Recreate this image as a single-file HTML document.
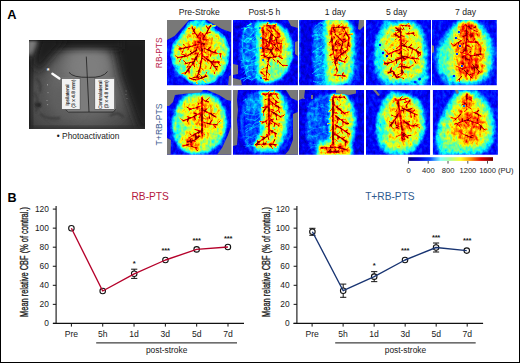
<!DOCTYPE html>
<html><head><meta charset="utf-8"><style>
html,body{margin:0;padding:0;background:#fff;}
body{width:520px;height:363px;overflow:hidden;}
svg{display:block;font-family:"Liberation Sans",sans-serif;}
</style></head><body>
<svg width="520" height="363" viewBox="0 0 520 363">
<defs><filter id="b0_20" filterUnits="userSpaceOnUse" x="-20" y="-20" width="110" height="110"><feGaussianBlur stdDeviation="0.2"/></filter><filter id="b0_30" filterUnits="userSpaceOnUse" x="-20" y="-20" width="110" height="110"><feGaussianBlur stdDeviation="0.3"/></filter><filter id="b0_40" filterUnits="userSpaceOnUse" x="-20" y="-20" width="110" height="110"><feGaussianBlur stdDeviation="0.4"/></filter><filter id="b0_50" filterUnits="userSpaceOnUse" x="-20" y="-20" width="110" height="110"><feGaussianBlur stdDeviation="0.5"/></filter><filter id="b0_60" filterUnits="userSpaceOnUse" x="-20" y="-20" width="110" height="110"><feGaussianBlur stdDeviation="0.6"/></filter><filter id="b0_70" filterUnits="userSpaceOnUse" x="-20" y="-20" width="110" height="110"><feGaussianBlur stdDeviation="0.7"/></filter><filter id="b0_80" filterUnits="userSpaceOnUse" x="-20" y="-20" width="110" height="110"><feGaussianBlur stdDeviation="0.8"/></filter><filter id="b0_90" filterUnits="userSpaceOnUse" x="-20" y="-20" width="110" height="110"><feGaussianBlur stdDeviation="0.9"/></filter><filter id="b1_00" filterUnits="userSpaceOnUse" x="-20" y="-20" width="110" height="110"><feGaussianBlur stdDeviation="1.0"/></filter><filter id="b1_10" filterUnits="userSpaceOnUse" x="-20" y="-20" width="110" height="110"><feGaussianBlur stdDeviation="1.1"/></filter><filter id="b1_20" filterUnits="userSpaceOnUse" x="-20" y="-20" width="110" height="110"><feGaussianBlur stdDeviation="1.2"/></filter><filter id="b1_30" filterUnits="userSpaceOnUse" x="-20" y="-20" width="110" height="110"><feGaussianBlur stdDeviation="1.3"/></filter><filter id="b1_40" filterUnits="userSpaceOnUse" x="-20" y="-20" width="110" height="110"><feGaussianBlur stdDeviation="1.4"/></filter><filter id="b1_50" filterUnits="userSpaceOnUse" x="-20" y="-20" width="110" height="110"><feGaussianBlur stdDeviation="1.5"/></filter><filter id="b1_60" filterUnits="userSpaceOnUse" x="-20" y="-20" width="110" height="110"><feGaussianBlur stdDeviation="1.6"/></filter><filter id="b1_80" filterUnits="userSpaceOnUse" x="-20" y="-20" width="110" height="110"><feGaussianBlur stdDeviation="1.8"/></filter><filter id="b2_00" filterUnits="userSpaceOnUse" x="-20" y="-20" width="110" height="110"><feGaussianBlur stdDeviation="2"/></filter><filter id="b2_50" filterUnits="userSpaceOnUse" x="-20" y="-20" width="110" height="110"><feGaussianBlur stdDeviation="2.5"/></filter><filter id="b3_00" filterUnits="userSpaceOnUse" x="-20" y="-20" width="110" height="110"><feGaussianBlur stdDeviation="3"/></filter><clipPath id="c0"><rect x="0" y="0" width="64.2" height="65.3"/></clipPath><filter id="j0" filterUnits="userSpaceOnUse" x="0" y="0" width="64.2" height="65.3" color-interpolation-filters="sRGB"><feTurbulence type="fractalNoise" baseFrequency="0.3 0.22" numOctaves="3" seed="3" result="n"/><feColorMatrix in="n" type="matrix" values="1 0 0 0 0 1 0 0 0 0 1 0 0 0 0 0 0 0 0 1" result="ng"/><feComposite in="SourceGraphic" in2="ng" operator="arithmetic" k1="0.55" k2="0.725" k3="0.12" k4="-0.06" result="s"/><feComponentTransfer in="s"><feFuncR type="table" tableValues="0.000 0.000 0.000 0.000 0.000 0.000 0.000 0.000 0.000 0.000 0.000 0.000 0.000 0.125 0.250 0.375 0.500 0.625 0.750 0.875 1.000 1.000 1.000 1.000 1.000 1.000 1.000 1.000 1.000 0.875 0.750 0.625 0.500"/><feFuncG type="table" tableValues="0.000 0.000 0.000 0.000 0.000 0.125 0.250 0.375 0.500 0.625 0.750 0.875 1.000 1.000 1.000 1.000 1.000 1.000 1.000 1.000 1.000 0.875 0.750 0.625 0.500 0.375 0.250 0.125 0.000 0.000 0.000 0.000 0.000"/><feFuncB type="table" tableValues="0.500 0.625 0.750 0.875 1.000 1.000 1.000 1.000 1.000 1.000 1.000 1.000 1.000 0.875 0.750 0.625 0.500 0.375 0.250 0.125 0.000 0.000 0.000 0.000 0.000 0.000 0.000 0.000 0.000 0.000 0.000 0.000 0.000"/><feFuncA type="linear" slope="0" intercept="1"/></feComponentTransfer></filter><clipPath id="c1"><rect x="0" y="0" width="64.9" height="65.3"/></clipPath><filter id="j1" filterUnits="userSpaceOnUse" x="0" y="0" width="64.9" height="65.3" color-interpolation-filters="sRGB"><feTurbulence type="fractalNoise" baseFrequency="0.3 0.22" numOctaves="3" seed="5" result="n"/><feColorMatrix in="n" type="matrix" values="1 0 0 0 0 1 0 0 0 0 1 0 0 0 0 0 0 0 0 1" result="ng"/><feComposite in="SourceGraphic" in2="ng" operator="arithmetic" k1="0.55" k2="0.725" k3="0.12" k4="-0.06" result="s"/><feComponentTransfer in="s"><feFuncR type="table" tableValues="0.000 0.000 0.000 0.000 0.000 0.000 0.000 0.000 0.000 0.000 0.000 0.000 0.000 0.125 0.250 0.375 0.500 0.625 0.750 0.875 1.000 1.000 1.000 1.000 1.000 1.000 1.000 1.000 1.000 0.875 0.750 0.625 0.500"/><feFuncG type="table" tableValues="0.000 0.000 0.000 0.000 0.000 0.125 0.250 0.375 0.500 0.625 0.750 0.875 1.000 1.000 1.000 1.000 1.000 1.000 1.000 1.000 1.000 0.875 0.750 0.625 0.500 0.375 0.250 0.125 0.000 0.000 0.000 0.000 0.000"/><feFuncB type="table" tableValues="0.500 0.625 0.750 0.875 1.000 1.000 1.000 1.000 1.000 1.000 1.000 1.000 1.000 0.875 0.750 0.625 0.500 0.375 0.250 0.125 0.000 0.000 0.000 0.000 0.000 0.000 0.000 0.000 0.000 0.000 0.000 0.000 0.000"/><feFuncA type="linear" slope="0" intercept="1"/></feComponentTransfer></filter><clipPath id="c2"><rect x="0" y="0" width="65" height="65.3"/></clipPath><filter id="j2" filterUnits="userSpaceOnUse" x="0" y="0" width="65" height="65.3" color-interpolation-filters="sRGB"><feTurbulence type="fractalNoise" baseFrequency="0.3 0.22" numOctaves="3" seed="7" result="n"/><feColorMatrix in="n" type="matrix" values="1 0 0 0 0 1 0 0 0 0 1 0 0 0 0 0 0 0 0 1" result="ng"/><feComposite in="SourceGraphic" in2="ng" operator="arithmetic" k1="0.55" k2="0.725" k3="0.12" k4="-0.06" result="s"/><feComponentTransfer in="s"><feFuncR type="table" tableValues="0.000 0.000 0.000 0.000 0.000 0.000 0.000 0.000 0.000 0.000 0.000 0.000 0.000 0.125 0.250 0.375 0.500 0.625 0.750 0.875 1.000 1.000 1.000 1.000 1.000 1.000 1.000 1.000 1.000 0.875 0.750 0.625 0.500"/><feFuncG type="table" tableValues="0.000 0.000 0.000 0.000 0.000 0.125 0.250 0.375 0.500 0.625 0.750 0.875 1.000 1.000 1.000 1.000 1.000 1.000 1.000 1.000 1.000 0.875 0.750 0.625 0.500 0.375 0.250 0.125 0.000 0.000 0.000 0.000 0.000"/><feFuncB type="table" tableValues="0.500 0.625 0.750 0.875 1.000 1.000 1.000 1.000 1.000 1.000 1.000 1.000 1.000 0.875 0.750 0.625 0.500 0.375 0.250 0.125 0.000 0.000 0.000 0.000 0.000 0.000 0.000 0.000 0.000 0.000 0.000 0.000 0.000"/><feFuncA type="linear" slope="0" intercept="1"/></feComponentTransfer></filter><clipPath id="c3"><rect x="0" y="0" width="65" height="65.3"/></clipPath><filter id="j3" filterUnits="userSpaceOnUse" x="0" y="0" width="65" height="65.3" color-interpolation-filters="sRGB"><feTurbulence type="fractalNoise" baseFrequency="0.3 0.22" numOctaves="3" seed="11" result="n"/><feColorMatrix in="n" type="matrix" values="1 0 0 0 0 1 0 0 0 0 1 0 0 0 0 0 0 0 0 1" result="ng"/><feComposite in="SourceGraphic" in2="ng" operator="arithmetic" k1="0.55" k2="0.725" k3="0.12" k4="-0.06" result="s"/><feComponentTransfer in="s"><feFuncR type="table" tableValues="0.000 0.000 0.000 0.000 0.000 0.000 0.000 0.000 0.000 0.000 0.000 0.000 0.000 0.125 0.250 0.375 0.500 0.625 0.750 0.875 1.000 1.000 1.000 1.000 1.000 1.000 1.000 1.000 1.000 0.875 0.750 0.625 0.500"/><feFuncG type="table" tableValues="0.000 0.000 0.000 0.000 0.000 0.125 0.250 0.375 0.500 0.625 0.750 0.875 1.000 1.000 1.000 1.000 1.000 1.000 1.000 1.000 1.000 0.875 0.750 0.625 0.500 0.375 0.250 0.125 0.000 0.000 0.000 0.000 0.000"/><feFuncB type="table" tableValues="0.500 0.625 0.750 0.875 1.000 1.000 1.000 1.000 1.000 1.000 1.000 1.000 1.000 0.875 0.750 0.625 0.500 0.375 0.250 0.125 0.000 0.000 0.000 0.000 0.000 0.000 0.000 0.000 0.000 0.000 0.000 0.000 0.000"/><feFuncA type="linear" slope="0" intercept="1"/></feComponentTransfer></filter><clipPath id="c4"><rect x="0" y="0" width="64.8" height="65.3"/></clipPath><filter id="j4" filterUnits="userSpaceOnUse" x="0" y="0" width="64.8" height="65.3" color-interpolation-filters="sRGB"><feTurbulence type="fractalNoise" baseFrequency="0.3 0.22" numOctaves="3" seed="13" result="n"/><feColorMatrix in="n" type="matrix" values="1 0 0 0 0 1 0 0 0 0 1 0 0 0 0 0 0 0 0 1" result="ng"/><feComposite in="SourceGraphic" in2="ng" operator="arithmetic" k1="0.55" k2="0.725" k3="0.12" k4="-0.06" result="s"/><feComponentTransfer in="s"><feFuncR type="table" tableValues="0.000 0.000 0.000 0.000 0.000 0.000 0.000 0.000 0.000 0.000 0.000 0.000 0.000 0.125 0.250 0.375 0.500 0.625 0.750 0.875 1.000 1.000 1.000 1.000 1.000 1.000 1.000 1.000 1.000 0.875 0.750 0.625 0.500"/><feFuncG type="table" tableValues="0.000 0.000 0.000 0.000 0.000 0.125 0.250 0.375 0.500 0.625 0.750 0.875 1.000 1.000 1.000 1.000 1.000 1.000 1.000 1.000 1.000 0.875 0.750 0.625 0.500 0.375 0.250 0.125 0.000 0.000 0.000 0.000 0.000"/><feFuncB type="table" tableValues="0.500 0.625 0.750 0.875 1.000 1.000 1.000 1.000 1.000 1.000 1.000 1.000 1.000 0.875 0.750 0.625 0.500 0.375 0.250 0.125 0.000 0.000 0.000 0.000 0.000 0.000 0.000 0.000 0.000 0.000 0.000 0.000 0.000"/><feFuncA type="linear" slope="0" intercept="1"/></feComponentTransfer></filter><clipPath id="c5"><rect x="0" y="0" width="64.2" height="64.8"/></clipPath><filter id="j5" filterUnits="userSpaceOnUse" x="0" y="0" width="64.2" height="64.8" color-interpolation-filters="sRGB"><feTurbulence type="fractalNoise" baseFrequency="0.3 0.22" numOctaves="3" seed="17" result="n"/><feColorMatrix in="n" type="matrix" values="1 0 0 0 0 1 0 0 0 0 1 0 0 0 0 0 0 0 0 1" result="ng"/><feComposite in="SourceGraphic" in2="ng" operator="arithmetic" k1="0.55" k2="0.725" k3="0.12" k4="-0.06" result="s"/><feComponentTransfer in="s"><feFuncR type="table" tableValues="0.000 0.000 0.000 0.000 0.000 0.000 0.000 0.000 0.000 0.000 0.000 0.000 0.000 0.125 0.250 0.375 0.500 0.625 0.750 0.875 1.000 1.000 1.000 1.000 1.000 1.000 1.000 1.000 1.000 0.875 0.750 0.625 0.500"/><feFuncG type="table" tableValues="0.000 0.000 0.000 0.000 0.000 0.125 0.250 0.375 0.500 0.625 0.750 0.875 1.000 1.000 1.000 1.000 1.000 1.000 1.000 1.000 1.000 0.875 0.750 0.625 0.500 0.375 0.250 0.125 0.000 0.000 0.000 0.000 0.000"/><feFuncB type="table" tableValues="0.500 0.625 0.750 0.875 1.000 1.000 1.000 1.000 1.000 1.000 1.000 1.000 1.000 0.875 0.750 0.625 0.500 0.375 0.250 0.125 0.000 0.000 0.000 0.000 0.000 0.000 0.000 0.000 0.000 0.000 0.000 0.000 0.000"/><feFuncA type="linear" slope="0" intercept="1"/></feComponentTransfer></filter><clipPath id="c6"><rect x="0" y="0" width="64.9" height="64.8"/></clipPath><filter id="j6" filterUnits="userSpaceOnUse" x="0" y="0" width="64.9" height="64.8" color-interpolation-filters="sRGB"><feTurbulence type="fractalNoise" baseFrequency="0.3 0.22" numOctaves="3" seed="19" result="n"/><feColorMatrix in="n" type="matrix" values="1 0 0 0 0 1 0 0 0 0 1 0 0 0 0 0 0 0 0 1" result="ng"/><feComposite in="SourceGraphic" in2="ng" operator="arithmetic" k1="0.55" k2="0.725" k3="0.12" k4="-0.06" result="s"/><feComponentTransfer in="s"><feFuncR type="table" tableValues="0.000 0.000 0.000 0.000 0.000 0.000 0.000 0.000 0.000 0.000 0.000 0.000 0.000 0.125 0.250 0.375 0.500 0.625 0.750 0.875 1.000 1.000 1.000 1.000 1.000 1.000 1.000 1.000 1.000 0.875 0.750 0.625 0.500"/><feFuncG type="table" tableValues="0.000 0.000 0.000 0.000 0.000 0.125 0.250 0.375 0.500 0.625 0.750 0.875 1.000 1.000 1.000 1.000 1.000 1.000 1.000 1.000 1.000 0.875 0.750 0.625 0.500 0.375 0.250 0.125 0.000 0.000 0.000 0.000 0.000"/><feFuncB type="table" tableValues="0.500 0.625 0.750 0.875 1.000 1.000 1.000 1.000 1.000 1.000 1.000 1.000 1.000 0.875 0.750 0.625 0.500 0.375 0.250 0.125 0.000 0.000 0.000 0.000 0.000 0.000 0.000 0.000 0.000 0.000 0.000 0.000 0.000"/><feFuncA type="linear" slope="0" intercept="1"/></feComponentTransfer></filter><clipPath id="c7"><rect x="0" y="0" width="65" height="64.8"/></clipPath><filter id="j7" filterUnits="userSpaceOnUse" x="0" y="0" width="65" height="64.8" color-interpolation-filters="sRGB"><feTurbulence type="fractalNoise" baseFrequency="0.3 0.22" numOctaves="3" seed="23" result="n"/><feColorMatrix in="n" type="matrix" values="1 0 0 0 0 1 0 0 0 0 1 0 0 0 0 0 0 0 0 1" result="ng"/><feComposite in="SourceGraphic" in2="ng" operator="arithmetic" k1="0.55" k2="0.725" k3="0.12" k4="-0.06" result="s"/><feComponentTransfer in="s"><feFuncR type="table" tableValues="0.000 0.000 0.000 0.000 0.000 0.000 0.000 0.000 0.000 0.000 0.000 0.000 0.000 0.125 0.250 0.375 0.500 0.625 0.750 0.875 1.000 1.000 1.000 1.000 1.000 1.000 1.000 1.000 1.000 0.875 0.750 0.625 0.500"/><feFuncG type="table" tableValues="0.000 0.000 0.000 0.000 0.000 0.125 0.250 0.375 0.500 0.625 0.750 0.875 1.000 1.000 1.000 1.000 1.000 1.000 1.000 1.000 1.000 0.875 0.750 0.625 0.500 0.375 0.250 0.125 0.000 0.000 0.000 0.000 0.000"/><feFuncB type="table" tableValues="0.500 0.625 0.750 0.875 1.000 1.000 1.000 1.000 1.000 1.000 1.000 1.000 1.000 0.875 0.750 0.625 0.500 0.375 0.250 0.125 0.000 0.000 0.000 0.000 0.000 0.000 0.000 0.000 0.000 0.000 0.000 0.000 0.000"/><feFuncA type="linear" slope="0" intercept="1"/></feComponentTransfer></filter><clipPath id="c8"><rect x="0" y="0" width="64.1" height="64.8"/></clipPath><filter id="j8" filterUnits="userSpaceOnUse" x="0" y="0" width="64.1" height="64.8" color-interpolation-filters="sRGB"><feTurbulence type="fractalNoise" baseFrequency="0.3 0.22" numOctaves="3" seed="29" result="n"/><feColorMatrix in="n" type="matrix" values="1 0 0 0 0 1 0 0 0 0 1 0 0 0 0 0 0 0 0 1" result="ng"/><feComposite in="SourceGraphic" in2="ng" operator="arithmetic" k1="0.55" k2="0.725" k3="0.12" k4="-0.06" result="s"/><feComponentTransfer in="s"><feFuncR type="table" tableValues="0.000 0.000 0.000 0.000 0.000 0.000 0.000 0.000 0.000 0.000 0.000 0.000 0.000 0.125 0.250 0.375 0.500 0.625 0.750 0.875 1.000 1.000 1.000 1.000 1.000 1.000 1.000 1.000 1.000 0.875 0.750 0.625 0.500"/><feFuncG type="table" tableValues="0.000 0.000 0.000 0.000 0.000 0.125 0.250 0.375 0.500 0.625 0.750 0.875 1.000 1.000 1.000 1.000 1.000 1.000 1.000 1.000 1.000 0.875 0.750 0.625 0.500 0.375 0.250 0.125 0.000 0.000 0.000 0.000 0.000"/><feFuncB type="table" tableValues="0.500 0.625 0.750 0.875 1.000 1.000 1.000 1.000 1.000 1.000 1.000 1.000 1.000 0.875 0.750 0.625 0.500 0.375 0.250 0.125 0.000 0.000 0.000 0.000 0.000 0.000 0.000 0.000 0.000 0.000 0.000 0.000 0.000"/><feFuncA type="linear" slope="0" intercept="1"/></feComponentTransfer></filter><clipPath id="c9"><rect x="0" y="0" width="65.0" height="64.8"/></clipPath><filter id="j9" filterUnits="userSpaceOnUse" x="0" y="0" width="65.0" height="64.8" color-interpolation-filters="sRGB"><feTurbulence type="fractalNoise" baseFrequency="0.3 0.22" numOctaves="3" seed="31" result="n"/><feColorMatrix in="n" type="matrix" values="1 0 0 0 0 1 0 0 0 0 1 0 0 0 0 0 0 0 0 1" result="ng"/><feComposite in="SourceGraphic" in2="ng" operator="arithmetic" k1="0.55" k2="0.725" k3="0.12" k4="-0.06" result="s"/><feComponentTransfer in="s"><feFuncR type="table" tableValues="0.000 0.000 0.000 0.000 0.000 0.000 0.000 0.000 0.000 0.000 0.000 0.000 0.000 0.125 0.250 0.375 0.500 0.625 0.750 0.875 1.000 1.000 1.000 1.000 1.000 1.000 1.000 1.000 1.000 0.875 0.750 0.625 0.500"/><feFuncG type="table" tableValues="0.000 0.000 0.000 0.000 0.000 0.125 0.250 0.375 0.500 0.625 0.750 0.875 1.000 1.000 1.000 1.000 1.000 1.000 1.000 1.000 1.000 0.875 0.750 0.625 0.500 0.375 0.250 0.125 0.000 0.000 0.000 0.000 0.000"/><feFuncB type="table" tableValues="0.500 0.625 0.750 0.875 1.000 1.000 1.000 1.000 1.000 1.000 1.000 1.000 1.000 0.875 0.750 0.625 0.500 0.375 0.250 0.125 0.000 0.000 0.000 0.000 0.000 0.000 0.000 0.000 0.000 0.000 0.000 0.000 0.000"/><feFuncA type="linear" slope="0" intercept="1"/></feComponentTransfer></filter><clipPath id="cph"><rect x="29" y="40" width="116" height="89"/></clipPath><filter id="pb1" x="-50%" y="-50%" width="200%" height="200%"><feGaussianBlur stdDeviation="1"/></filter><filter id="pb2" x="-50%" y="-50%" width="200%" height="200%"><feGaussianBlur stdDeviation="2"/></filter><filter id="pb3" x="-50%" y="-50%" width="200%" height="200%"><feGaussianBlur stdDeviation="3"/></filter><filter id="pb4" x="-50%" y="-50%" width="200%" height="200%"><feGaussianBlur stdDeviation="4"/></filter><filter id="pb5" x="-50%" y="-50%" width="200%" height="200%"><feGaussianBlur stdDeviation="5"/></filter><filter id="pb6" x="-50%" y="-50%" width="200%" height="200%"><feGaussianBlur stdDeviation="6"/></filter><filter id="pb8" x="-50%" y="-50%" width="200%" height="200%"><feGaussianBlur stdDeviation="8"/></filter><linearGradient id="jet" x1="0" x2="1" y1="0" y2="0">
<stop offset="0" stop-color="#00007a"/><stop offset="0.12" stop-color="#0000d0"/><stop offset="0.25" stop-color="#0040ff"/>
<stop offset="0.38" stop-color="#80ffff"/><stop offset="0.5" stop-color="#b0ff90"/><stop offset="0.62" stop-color="#ffff20"/>
<stop offset="0.74" stop-color="#ff9000"/><stop offset="0.86" stop-color="#e00000"/><stop offset="1" stop-color="#700000"/></linearGradient></defs>
<rect x="0" y="0" width="520" height="363" fill="#fff"/>
<rect x="0.5" y="0.5" width="519" height="362" fill="none" stroke="#000" stroke-width="1"/>
<text x="7.3" y="18.5" font-size="12.8" font-weight="bold">A</text>
<text x="7.6" y="201.8" font-size="12.6" font-weight="bold">B</text>
<g fill="#1a1a1a">
<text x="199.3" y="14.7" text-anchor="middle" font-size="8.6">Pre-Stroke</text>
<text x="264.4" y="14.7" text-anchor="middle" font-size="8.6">Post-5 h</text>
<text x="335.3" y="14.7" text-anchor="middle" font-size="8.6">1 day</text>
<text x="396.6" y="14.7" text-anchor="middle" font-size="8.6">5 day</text>
<text x="465.6" y="14.7" text-anchor="middle" font-size="8.6">7 day</text>
<text x="88.1" y="138.5" text-anchor="middle" font-size="8.4">&#8226; Photoactivation</text>
</g>
<text transform="translate(161.9 52.8) rotate(-90)" text-anchor="middle" font-size="8.4" fill="#b8234a">RB-PTS</text>
<text transform="translate(161.6 124.5) rotate(-90)" text-anchor="middle" font-size="8.6" fill="#3b5b8f">T+RB-PTS</text>
<g clip-path="url(#cph)">
<rect x="29" y="40" width="116" height="89" fill="#363636"/>
<ellipse cx="80" cy="100" rx="58" ry="42" fill="#505050" filter="url(#pb8)"/>
<ellipse cx="86" cy="82" rx="38" ry="40" fill="#6a6a6a" filter="url(#pb8)"/>
<ellipse cx="88" cy="66" rx="22" ry="20" fill="#7e7e7e" filter="url(#pb6)"/>
<ellipse cx="66" cy="100" rx="16" ry="16" fill="#5e5e5e" filter="url(#pb6)"/>
<polygon points="112,36 150,36 150,132 140,132 130,104 120,76" fill="#1c1c1c" filter="url(#pb5)"/>
<rect x="38" y="34" width="84" height="15" fill="#1e1e1e" filter="url(#pb3)"/>
<polygon points="40,36 68,36 58,48 46,62 38,72 33,62" fill="#1c1c1c" filter="url(#pb4)"/>
<polygon points="27,36 38,36 36,46 32,54 27,56" fill="#7c7c7c" filter="url(#pb2)"/>
<rect x="26" y="58" width="5" height="74" fill="#161616" filter="url(#pb2)"/>
<rect x="27" y="37" width="122" height="4" fill="#161616" filter="url(#pb1)"/>
<rect x="27" y="127" width="122" height="4" fill="#2a2a2a" filter="url(#pb2)"/>
<ellipse cx="38" cy="105" rx="3" ry="2.2" fill="#161616" filter="url(#pb1)"/>
<path d="M34 92 Q40 100 36 112 M40 114 Q48 120 60 118 M110 116 Q118 110 124 118 M36 78 Q42 84 40 92" stroke="#3a3a3a" stroke-width="2" fill="none" filter="url(#pb1)"/>
<polygon points="61.5,77.5 88.5,77.5 89,111.8 68.4,112.1 65,109.2 61.5,109.2" fill="#7c7c7c"/>
<polygon points="88.5,77.5 114.5,77.5 115.7,109.2 113.4,111.6 89,111.8" fill="#7c7c7c"/>
<path d="M65 109.2 L68.4 112.1 H113.4 L115.7 109.2" stroke="#2a2a2a" stroke-width="0.8" fill="none"/>
<path d="M69 72.4 Q73 77.8 88.5 77.3 Q103 78 107.5 71.5" stroke="#1e1e1e" stroke-width="0.8" fill="none"/>
<path d="M86.3 56.6 L89 112" stroke="#1e1e1e" stroke-width="0.8" fill="none"/>
<rect x="61.7" y="78.5" width="18.4" height="30.8" fill="#f2f2f2" stroke="#4a4a4a" stroke-width="0.6"/>
<rect x="94.8" y="78.4" width="19.8" height="30.9" fill="#f2f2f2" stroke="#4a4a4a" stroke-width="0.6"/>
<g font-size="5" fill="#2a2a2a" stroke="#2a2a2a" stroke-width="0.12" text-rendering="geometricPrecision">
<text transform="translate(69.1 95) rotate(-90)" text-anchor="middle">Ipsilateral</text>
<text transform="translate(75.4 93.6) rotate(-90)" text-anchor="middle">(3 x 4.8 mm)</text>
<text transform="translate(101.6 94.8) rotate(-90)" text-anchor="middle">Contralateral</text>
<text transform="translate(107.9 94.3) rotate(-90)" text-anchor="middle">(3 x 4.8 mm)</text>
</g>
<path d="M52.4 73.8 L59.4 78.6" stroke="#fafafa" stroke-width="2.4" stroke-linecap="round"/>
<text x="48.2" y="73" font-size="7" fill="#fff" text-anchor="middle" font-weight="bold">*</text>
<path d="M47.5 84v1.5M48 92v1.2M47 100v1M47.6 104v1.2" stroke="#bbb" stroke-width="0.6"/>
<path d="M126 94v1.2M127 98v1M125.5 91h1.2" stroke="#999" stroke-width="0.5"/>
</g>
<g transform="translate(167 20)" clip-path="url(#c0)">
<g filter="url(#j0)">
<rect x="-2" y="-2" width="68.2" height="69.3" fill="#1f1f1f"/>
<polygon points="22,1 38,0 50,10 58,16 63,28 62,42 57,54 46,63 34,66 24,64 14,56 6,46 3,36 5,24 12,16" fill="#404040" filter="url(#b0_70)"/>
<polygon points="22.72,2.98 37.76,2.04 49.04,11.44 56.56,17.08 61.26,28.36 60.32,41.52 55.62,52.8 45.28,61.26 34,64.08 24.6,62.2 15.2,54.68 7.68,45.28 4.86,35.88 6.74,24.6 13.32,17.08" fill="#6b6b6b" filter="url(#b0_90)"/>
<polygon points="23.56,5.29 37.48,4.42 47.92,13.12 54.88,18.34 59.23,28.78 58.36,40.96 54.01,51.4 44.44,59.23 34,61.84 25.3,60.1 16.6,53.14 9.64,44.44 7.03,35.74 8.77,25.3 14.86,18.34" fill="#999999" filter="url(#b1_20)"/>
<ellipse cx="15" cy="46" rx="6" ry="10" fill="#707070" filter="url(#b2_00)"/>
<ellipse cx="40" cy="57" rx="8" ry="5" fill="#787878" filter="url(#b2_00)"/>
<ellipse cx="54" cy="34" rx="3" ry="9" fill="#7a7a7a" filter="url(#b2_00)"/>
<ellipse cx="31" cy="4" rx="7" ry="4" fill="#5c5c5c" filter="url(#b1_20)"/>
<ellipse cx="34" cy="26" rx="13" ry="14" fill="#a8a8a8" filter="url(#b3_00)"/>
<ellipse cx="34" cy="22" rx="7" ry="9" fill="#cccccc" filter="url(#b2_50)"/>
<ellipse cx="34" cy="22" rx="3.5" ry="5" fill="#ededed" filter="url(#b1_20)"/>
<path d="M34 22Q36.7 17.1 40 12Q41.8 8.6 44 5M34 22Q31.2 17.0 28 13Q25.9 9.9 25 6M34 24Q27.7 25.2 22 27Q17.6 28.0 12 29M30 30Q25.4 33.0 20 36Q15.2 36.6 10 38M34 24Q34.7 30.4 35 36Q34.0 42.3 33 48Q31.7 52.5 30 58M32 32Q28.8 38.6 25 45Q21.3 48.9 18 54M36 28Q41.4 30.0 46 32Q50.3 33.5 54 34M36 36Q40.3 39.5 44 42Q46.9 46.4 50 50M22 58Q25.9 59.5 30 60Q35.5 57.5 40 56M26 42Q21.6 42.7 18 44M44 42Q48.6 41.9 52 42" stroke="#b8b8b8" stroke-width="2.20" fill="none" stroke-linecap="round" stroke-linejoin="round" filter="url(#b1_00)"/>
<path d="M34 22Q36.7 17.1 40 12Q41.8 8.6 44 5M34 22Q31.2 17.0 28 13Q25.9 9.9 25 6M34 24Q27.7 25.2 22 27Q17.6 28.0 12 29M30 30Q25.4 33.0 20 36Q15.2 36.6 10 38M34 24Q34.7 30.4 35 36Q34.0 42.3 33 48Q31.7 52.5 30 58M32 32Q28.8 38.6 25 45Q21.3 48.9 18 54M36 28Q41.4 30.0 46 32Q50.3 33.5 54 34M36 36Q40.3 39.5 44 42Q46.9 46.4 50 50M22 58Q25.9 59.5 30 60Q35.5 57.5 40 56M26 42Q21.6 42.7 18 44M44 42Q48.6 41.9 52 42" stroke="#ffffff" stroke-width="1.1" fill="none" stroke-linecap="round" stroke-linejoin="round" filter="url(#b0_30)"/>
<path d="M35.5 19.5Q38.5 20.3 40.9 19.8M37.3 16.5Q36.0 15.0 35.2 13.0M39.0 13.7Q41.9 12.2 43.3 12.2M41.6 9.3Q40.0 7.7 39.0 5.4M43.4 6.0Q45.4 6.2 48.3 5.8M33.5 21.2Q32.2 20.9 30.3 20.5M30.6 16.9Q32.4 14.5 33.4 12.0M28.6 14.0Q27.1 13.1 25.5 13.8M27.0 10.6Q28.3 8.5 28.2 6.4M25.9 8.1Q24.0 7.8 21.1 8.2M30.8 24.8Q30.3 26.9 29.2 29.7M27.9 25.5Q27.0 24.1 25.1 22.8M23.4 26.6Q21.4 28.5 20.9 29.8M19.6 27.5Q18.2 25.5 16.4 24.3M17.2 28.0Q16.2 30.1 15.6 32.4M14.0 28.6Q12.0 27.1 10.6 25.1M28.3 31.0Q29.4 32.3 29.2 34.5M25.3 32.8Q24.4 32.6 23.2 31.3M20.8 35.5Q20.6 37.6 21.0 39.2M19.2 36.2Q16.9 34.4 14.1 33.8M15.1 37.0Q13.3 39.7 12.2 41.7M11.2 37.8Q9.9 36.6 8.5 35.8M34.1 25.6Q31.8 27.0 30.6 27.5M34.6 30.9Q37.2 32.5 38.6 32.7M34.7 32.8Q33.5 33.2 32.8 34.5M34.7 37.9Q36.5 38.8 39.1 41.3M33.8 43.2Q31.0 43.0 29.5 44.3M33.2 47.0Q35.6 49.3 37.2 50.8M32.3 50.3Q30.7 51.5 29.4 51.9M31.3 53.6Q33.0 54.6 34.7 56.6M30.4 56.7Q28.7 57.9 26.2 57.6M31.5 32.9Q29.6 33.1 27.1 34.1M28.9 37.7Q29.3 39.7 31.1 42.4M28.1 39.2Q26.7 39.2 23.8 38.8M26.1 43.0Q26.3 44.2 27.4 46.6M23.6 46.8Q21.9 46.6 19.5 47.1M21.6 49.4Q22.2 50.5 22.2 53.0M19.3 52.3Q16.6 53.6 14.6 53.4M37.3 28.5Q37.4 30.4 37.6 32.1M40.5 29.8Q41.6 27.6 43.7 27.0M43.9 31.1Q44.4 34.0 43.6 36.4M47.6 32.4Q48.1 31.5 49.1 30.0M52.5 33.6Q53.7 37.0 54.4 39.2M37.1 36.8Q39.4 37.2 40.5 36.9M40.5 39.4Q40.3 41.5 41.1 44.2M43.4 41.5Q44.7 41.9 46.9 41.1M45.2 43.6Q44.2 46.8 43.2 48.7M47.3 46.4Q49.0 46.5 50.6 46.8M49.3 49.1Q48.5 51.1 47.3 53.8M24.5 58.6Q25.7 58.0 27.0 57.2M28.5 59.6Q28.7 61.0 30.2 63.7M30.9 59.6Q30.9 57.8 32.1 56.5M34.7 58.1Q37.5 60.6 38.7 62.3M37.4 57.1Q38.9 54.9 39.8 51.6M23.1 42.7Q21.5 44.9 20.2 46.7M19.8 43.6Q17.1 41.4 15.9 39.6M45.9 42.0Q46.6 40.2 47.3 39.4M49.9 42.0Q51.3 44.0 53.4 45.5" stroke="#ffffff" stroke-width="0.8" fill="none" stroke-linecap="round" stroke-linejoin="round" filter="url(#b0_30)"/>
<path d="M33 18 L35 30 M31 22 L37 24" stroke="#b8b8b8" stroke-width="3.60" fill="none" stroke-linecap="round" stroke-linejoin="round" filter="url(#b1_00)"/>
<path d="M33 18 L35 30 M31 22 L37 24" stroke="#fafafa" stroke-width="1.8" fill="none" stroke-linecap="round" stroke-linejoin="round" filter="url(#b0_60)"/>
</g>
<polygon points="0,0 22,0 7.5,16 0,20" fill="#787878"/>
<polygon points="40,0 65,0 65,12.5 55,9" fill="#787878"/>
<polygon points="62,56 65,55 65,66 61,66" fill="#787878"/>
</g><g transform="translate(233 20)" clip-path="url(#c1)">
<g filter="url(#j1)">
<rect x="-2" y="-2" width="68.9" height="69.3" fill="#1a1a1a"/>
<polygon points="31,0 49,3 58,14 62,30 58,48 50,60 36,66 22,64 15,58 8,45 5,33 7,18 12,6 20,1" fill="#2b2b2b" filter="url(#b1_00)"/>
<polygon points="12,7 26,2 27,62 17,58 9,45 7,30 9,16" fill="#3b3b3b" filter="url(#b1_50)"/>
<path d="M25.0 5.0L20.5 8.4L14.6 7.5L8.7 8.3M24.6 9.9L21.4 10.9L18.5 14.4L15.6 17.8L12.0 15.4L9.3 15.8M25.6 15.3L22.9 15.5L19.4 18.1L16.1 20.2L13.7 23.4L11.1 21.0M25.8 16.2L22.3 17.3L19.7 20.7L16.7 18.3L13.7 18.3L11.0 21.6M24.2 20.4L20.8 21.5L17.0 22.0L13.9 22.1L11.5 22.2L8.4 19.9M25.0 25.9L22.5 28.3L19.7 28.9L16.7 30.6L13.8 31.2L10.3 33.9M24.2 29.6L20.9 31.5L16.9 30.3L12.2 28.1L8.5 28.8M24.0 34.4L21.2 36.2L18.5 38.3L15.3 41.2L11.7 39.7L9.0 42.5M24.7 38.9L19.2 40.8L13.9 41.3L7.8 40.5M24.7 42.8L21.7 42.6L18.4 44.2L15.9 45.8L12.2 45.8L8.5 47.1M25.2 45.3L21.5 44.7L18.5 45.3L15.3 45.7L12.8 48.8L9.8 52.0M25.5 51.2L21.2 50.7L18.1 49.8L13.6 51.9L10.6 55.1M25.0 52.3L21.5 53.1L18.6 56.1L16.1 56.5L13.0 59.0L10.3 61.1M24.4 56.7L18.4 59.9L12.8 57.4L7.6 59.3" stroke="#5c5c5c" stroke-width="0.8" fill="none" stroke-linecap="round" stroke-linejoin="round" filter="url(#b0_50)"/>
<path d="M12 8 Q6 30 14 56" stroke="#4c4c4c" stroke-width="1.3" fill="none" stroke-linecap="round" stroke-linejoin="round" filter="url(#b0_70)"/>
<path d="M14 6 L18 4 M12 9 L16 7" stroke="#808080" stroke-width="1.0" fill="none" stroke-linecap="round" stroke-linejoin="round" filter="url(#b0_40)"/>
<polygon points="23,2 44,3 54,10 59,22 60,36 55,50 46,60 34,64 24,60 23,40 23,20" fill="#666666" filter="url(#b1_20)"/>
<polygon points="27,4 42,5 50,11 55,22 56,36 52,48 44,58 34,61 27,56 26,38 27,18" fill="#949494" filter="url(#b1_30)"/>
<ellipse cx="42" cy="48" rx="8" ry="9" fill="#787878" filter="url(#b2_50)"/>
<polygon points="29,6 43,6 48,14 50,28 46,36 33,38 29,34" fill="#bdbdbd" filter="url(#b1_50)"/>
<path d="M31 6Q30.5 12.6 31 20Q31.3 27.6 31 36Q33.9 36.7 36 38Q40.9 36.9 47 36M31 6Q36.1 5.4 42 6M35 10Q38.7 14.0 43 18Q43.6 23.4 45 28M31 20Q35.3 22.2 40 24Q42.8 26.5 46 30M36 38Q34.9 44.2 34 50Q33.5 55.2 33 60M44 40Q46.5 42.6 50 46M38 14Q36.6 20.0 36 26M40 28Q38.4 30.9 36 34M31 28Q34.9 28.5 38 30" stroke="#b8b8b8" stroke-width="2.00" fill="none" stroke-linecap="round" stroke-linejoin="round" filter="url(#b1_00)"/>
<path d="M31 6Q30.5 12.6 31 20Q31.3 27.6 31 36Q33.9 36.7 36 38Q40.9 36.9 47 36M31 6Q36.1 5.4 42 6M35 10Q38.7 14.0 43 18Q43.6 23.4 45 28M31 20Q35.3 22.2 40 24Q42.8 26.5 46 30M36 38Q34.9 44.2 34 50Q33.5 55.2 33 60M44 40Q46.5 42.6 50 46M38 14Q36.6 20.0 36 26M40 28Q38.4 30.9 36 34M31 28Q34.9 28.5 38 30" stroke="#ffffff" stroke-width="1.0" fill="none" stroke-linecap="round" stroke-linejoin="round" filter="url(#b0_30)"/>
<path d="M31.0 7.4Q30.5 8.8 28.9 10.5M31.0 11.4Q32.1 12.3 33.6 14.4M31.0 14.2Q29.3 16.4 27.5 18.5M31.0 18.8Q33.2 19.7 34.1 20.4M31.0 22.5Q29.0 24.3 28.3 25.1M31.0 25.0Q33.4 26.2 34.5 26.5M31.0 28.6Q30.1 31.1 27.8 32.9M31.0 31.1Q32.0 32.6 34.0 32.8M31.0 34.7Q29.3 35.8 27.9 35.8M32.4 36.6Q33.7 35.8 35.8 34.3M38.2 37.6Q40.9 38.6 42.1 41.0M42.6 36.8Q43.2 34.4 44.8 33.5M45.3 36.3Q48.0 37.9 49.3 38.6M33.7 6.0Q33.8 4.3 34.9 2.4M36.7 6.0Q37.6 8.9 38.6 10.5M40.9 6.0Q41.8 4.9 43.7 3.9M35.8 10.8Q38.6 11.2 41.4 11.6M39.6 14.6Q38.9 17.8 38.5 20.0M42.3 17.3Q44.9 17.8 47.1 16.8M43.3 19.6Q40.2 20.5 38.1 22.4M43.9 22.6Q47.0 23.7 48.6 23.8M44.8 26.9Q43.7 29.5 41.8 30.8M32.6 20.7Q32.9 22.7 34.0 25.2M35.8 22.1Q38.2 20.5 41.2 20.1M38.7 23.4Q39.5 24.8 40.1 27.1M40.9 24.9Q43.0 23.5 46.4 23.3M43.8 27.8Q44.2 29.2 44.1 30.5M35.5 40.8Q33.7 42.2 33.2 42.3M35.0 43.8Q36.5 44.6 37.3 46.6M34.4 47.6Q31.1 48.0 29.0 49.2M33.8 51.5Q35.3 52.9 36.9 55.3M33.4 55.6Q30.8 56.0 28.4 57.3M33.2 58.4Q34.3 59.7 35.1 60.0M44.8 40.8Q44.3 42.3 44.1 44.2M49.3 45.3Q51.4 45.4 54.4 45.4M37.6 16.2Q34.9 18.9 33.5 20.1M37.2 18.9Q38.0 19.1 39.6 20.3M36.5 22.9Q34.2 24.9 32.2 26.9M38.6 30.0Q36.0 29.5 33.7 28.7M37.5 31.8Q38.8 34.1 40.9 36.0M32.4 28.4Q34.1 27.7 35.3 27.1M37.3 29.8Q38.9 31.8 39.8 33.9" stroke="#ffffff" stroke-width="0.8" fill="none" stroke-linecap="round" stroke-linejoin="round" filter="url(#b0_30)"/>
<path d="M30 8 L30 32 M40 8 L46 14" stroke="#b8b8b8" stroke-width="3.00" fill="none" stroke-linecap="round" stroke-linejoin="round" filter="url(#b1_00)"/>
<path d="M30 8 L30 32 M40 8 L46 14" stroke="#f0f0f0" stroke-width="1.5" fill="none" stroke-linecap="round" stroke-linejoin="round" filter="url(#b0_50)"/>
<path d="M30 58 L36 60 M28 52 L32 56" stroke="#d9d9d9" stroke-width="1.2" fill="none" stroke-linecap="round" stroke-linejoin="round" filter="url(#b0_40)"/>
<ellipse cx="27" cy="8" rx="1" ry="1" fill="#262626" filter="url(#b0_20)"/>
<ellipse cx="28" cy="18" rx="1" ry="1" fill="#262626" filter="url(#b0_20)"/>
<ellipse cx="28" cy="28" rx="1" ry="1" fill="#262626" filter="url(#b0_20)"/>
<ellipse cx="30" cy="40" rx="1" ry="1" fill="#262626" filter="url(#b0_20)"/>
<ellipse cx="28" cy="58" rx="1" ry="1" fill="#262626" filter="url(#b0_20)"/>
</g>
<polygon points="55,0 65,0 65,8 58,6" fill="#787878"/>
<polygon points="62,22 65,21 65,36 62,34" fill="#787878"/>
<polygon points="0,44 5,45 5,54 0,55" fill="#787878"/>
<polygon points="0,58 8,60 9,66 0,66" fill="#787878"/>
</g><g transform="translate(299 20)" clip-path="url(#c2)">
<g filter="url(#j2)">
<rect x="-2" y="-2" width="69" height="69.3" fill="#1a1a1a"/>
<rect x="0" y="0" width="1.5" height="66" fill="#333333" filter="url(#b0_40)"/>
<polygon points="14,4 28,0 50,0 58,10 60,30 59,50 56,66 16,66 13,40" fill="#2b2b2b" filter="url(#b1_20)"/>
<polygon points="15,8 27,2 27,66 18,66 14,40" fill="#404040" filter="url(#b1_50)"/>
<path d="M26.9 5.8L24.5 8.4L22.3 6.1L20.4 9.5L17.7 12.0L14.9 12.1M25.9 5.9L23.6 3.8L21.1 2.7L18.5 4.8L15.7 7.5M25.2 13.2L21.2 14.8L16.6 15.5L13.3 16.1M26.6 15.7L23.0 17.9L19.3 18.8L15.0 19.9M26.6 18.3L24.2 18.5L22.2 16.8L20.2 15.0L17.8 14.4L15.4 14.5M25.5 23.5L22.2 26.8L17.7 29.2L13.9 32.4M26.5 28.4L23.8 29.9L21.1 29.8L18.3 28.5L15.8 30.9L13.9 32.1M26.5 29.1L24.1 29.7L21.7 31.7L18.6 32.2L15.5 30.6M26.9 34.8L24.9 33.2L23.0 35.1L20.9 36.5L18.7 35.2L16.8 37.2M26.9 40.5L22.3 43.1L18.9 43.9L15.4 46.6M26.7 41.9L24.1 42.3L20.7 40.1L17.5 41.9L14.8 41.6M25.6 46.3L22.5 47.3L19.2 48.9L16.5 50.4L13.6 53.4M26.1 49.0L21.8 48.0L17.2 51.0L13.7 53.6M26.7 55.6L23.1 54.6L19.8 54.2L16.6 55.8M26.9 59.5L24.9 60.0L22.9 62.0L20.3 61.3L18.2 61.3L16.3 61.6M26.3 62.3L24.3 61.8L21.5 63.9L19.4 62.4L16.9 62.7L14.4 61.1" stroke="#5c5c5c" stroke-width="0.8" fill="none" stroke-linecap="round" stroke-linejoin="round" filter="url(#b0_50)"/>
<polygon points="25,0 49,0 55,8 56,30 55,50 52,62 40,66 26,66 25,40" fill="#666666" filter="url(#b1_20)"/>
<polygon points="28,0 46,0 51,8 52,30 51,48 48,60 38,63 29,62 28,30" fill="#949494" filter="url(#b1_30)"/>
<ellipse cx="40" cy="50" rx="8" ry="8" fill="#808080" filter="url(#b2_50)"/>
<polygon points="31,6 46,5 51,16 50,30 42,38 34,42" fill="#b8b8b8" filter="url(#b1_80)"/>
<path d="M32 8Q37.5 7.3 44 7Q46.4 12.2 50 18Q49.3 24.2 48 30Q44.0 33.3 40 36Q37.9 39.4 36 42M32 8Q32.6 14.6 33 22Q34.6 32.0 36 42M36 14Q40.0 17.7 44 22Q43.2 25.6 42 30Q38.8 29.7 36 30M36 42Q36.7 45.6 38 50M35 55Q40.8 55.7 46 56M40 40Q42.4 41.1 46 42M38 20Q36.5 22.2 36 24" stroke="#b8b8b8" stroke-width="2.20" fill="none" stroke-linecap="round" stroke-linejoin="round" filter="url(#b1_00)"/>
<path d="M32 8Q37.5 7.3 44 7Q46.4 12.2 50 18Q49.3 24.2 48 30Q44.0 33.3 40 36Q37.9 39.4 36 42M32 8Q32.6 14.6 33 22Q34.6 32.0 36 42M36 14Q40.0 17.7 44 22Q43.2 25.6 42 30Q38.8 29.7 36 30M36 42Q36.7 45.6 38 50M35 55Q40.8 55.7 46 56M40 40Q42.4 41.1 46 42M38 20Q36.5 22.2 36 24" stroke="#ffffff" stroke-width="1.1" fill="none" stroke-linecap="round" stroke-linejoin="round" filter="url(#b0_30)"/>
<path d="M34.3 7.8Q35.4 10.5 36.1 11.8M38.3 7.5Q40.4 4.9 42.4 3.5M42.8 7.1Q43.8 10.0 44.5 11.8M44.4 7.8Q46.7 7.9 49.5 7.8M46.8 12.1Q46.2 14.9 44.8 16.3M48.4 15.1Q50.4 14.4 53.8 13.9M49.8 19.3Q47.7 20.8 45.4 22.0M48.8 24.9Q49.6 25.6 50.9 26.6M48.5 26.9Q46.8 28.0 43.6 28.4M46.4 31.2Q46.8 33.7 47.8 36.3M44.7 32.5Q43.1 32.1 41.5 31.9M41.1 35.2Q41.4 37.1 42.0 38.1M38.5 38.3Q35.4 39.4 33.5 39.9M37.6 39.7Q38.3 41.7 38.3 43.0M32.2 10.7Q34.0 12.2 36.1 12.7M32.3 12.9Q30.9 13.8 30.1 15.9M32.6 16.0Q34.7 16.9 35.7 17.3M32.9 21.0Q32.3 20.9 30.6 22.4M33.2 23.5Q36.0 24.0 37.5 24.5M33.8 27.5Q32.8 28.9 31.3 30.3M34.2 30.0Q36.8 30.6 38.0 31.0M34.7 33.5Q32.6 34.6 30.8 35.4M35.3 37.0Q36.1 38.4 37.6 39.4M35.7 40.2Q34.9 41.4 33.2 43.0M37.7 15.7Q39.6 14.9 42.7 13.9M40.4 18.4Q40.6 20.7 39.3 21.8M42.4 20.4Q44.3 19.5 45.4 19.5M43.7 23.0Q42.2 24.0 40.6 25.6M42.7 27.3Q43.3 29.5 44.6 31.4M40.0 30.0Q38.8 28.4 36.3 25.5M36.2 42.9Q38.1 43.4 40.6 44.5M37.5 48.0Q35.7 49.7 35.1 50.4M36.4 55.1Q38.0 52.8 38.5 50.2M40.7 55.5Q43.1 57.6 43.9 58.3M43.2 55.7Q43.6 53.8 44.3 52.8M44.5 41.5Q46.1 39.4 47.7 37.1M37.5 21.1Q38.6 21.9 40.2 23.8" stroke="#ffffff" stroke-width="0.8" fill="none" stroke-linecap="round" stroke-linejoin="round" filter="url(#b0_30)"/>
<path d="M32 10 L34 30" stroke="#b8b8b8" stroke-width="3.20" fill="none" stroke-linecap="round" stroke-linejoin="round" filter="url(#b1_00)"/>
<path d="M32 10 L34 30" stroke="#f2f2f2" stroke-width="1.6" fill="none" stroke-linecap="round" stroke-linejoin="round" filter="url(#b0_50)"/>
<path d="M60 14 Q56 24 58 36 M61 40 Q58 50 60 60" stroke="#4c4c4c" stroke-width="1.0" fill="none" stroke-linecap="round" stroke-linejoin="round" filter="url(#b0_80)"/>
</g>
<polygon points="60,0 65,0 65,6 61,10 59,9" fill="#787878"/>
</g><g transform="translate(366 20)" clip-path="url(#c3)">
<g filter="url(#j3)">
<rect x="-2" y="-2" width="69" height="69.3" fill="#1f1f1f"/>
<polygon points="18,0 50,0 58,10 62,30 62,50 58,66 18,66 12,60 7,45 8,20" fill="#454545" filter="url(#b1_00)"/>
<polygon points="19.44,2.72 48.88,2.72 56.24,11.92 59.92,30.32 59.92,48.72 56.24,63.44 19.44,63.44 13.92,57.92 9.32,44.12 10.24,21.12" fill="#616161" filter="url(#b1_30)"/>
<polygon points="22,6.4 47.6,6.4 54,14.4 57.2,30.4 57.2,46.4 54,59.2 22,59.2 17.2,54.4 13.2,42.4 14,22.4" fill="#949494" filter="url(#b1_60)"/>
<ellipse cx="14" cy="40" rx="4" ry="14" fill="#5c5c5c" filter="url(#b2_00)"/>
<ellipse cx="56" cy="58" rx="6" ry="6" fill="#6b6b6b" filter="url(#b2_00)"/>
<ellipse cx="36" cy="28" rx="12" ry="12" fill="#a8a8a8" filter="url(#b3_00)"/>
<path d="M34 5Q34.4 12.6 35 20Q35.5 25.0 35 30Q35.5 36.1 36 42Q35.6 48.5 36 55M34 5Q39.2 5.9 44 6M35 29Q30.5 30.3 27 32Q23.0 33.9 20 35M35 38Q30.7 39.5 26 42Q22.6 43.6 18 44M35 25Q40.2 26.6 45 28Q49.1 29.9 54 33M36 36Q40.0 36.5 44 38Q48.1 38.2 53 39M22 53Q23.9 52.0 27 51Q28.9 54.9 31 58Q33.5 56.7 36 55M40 14Q44.0 13.7 48 13M35 18Q31.4 15.7 28 14M36 46Q40.6 47.6 44 48M35 12Q32.9 10.2 30 8" stroke="#b8b8b8" stroke-width="2.40" fill="none" stroke-linecap="round" stroke-linejoin="round" filter="url(#b1_00)"/>
<path d="M34 5Q34.4 12.6 35 20Q35.5 25.0 35 30Q35.5 36.1 36 42Q35.6 48.5 36 55M34 5Q39.2 5.9 44 6M35 29Q30.5 30.3 27 32Q23.0 33.9 20 35M35 38Q30.7 39.5 26 42Q22.6 43.6 18 44M35 25Q40.2 26.6 45 28Q49.1 29.9 54 33M36 36Q40.0 36.5 44 38Q48.1 38.2 53 39M22 53Q23.9 52.0 27 51Q28.9 54.9 31 58Q33.5 56.7 36 55M40 14Q44.0 13.7 48 13M35 18Q31.4 15.7 28 14M36 46Q40.6 47.6 44 48M35 12Q32.9 10.2 30 8" stroke="#ffffff" stroke-width="1.2" fill="none" stroke-linecap="round" stroke-linejoin="round" filter="url(#b0_30)"/>
<path d="M34.2 7.8Q35.3 9.3 36.7 9.8M34.4 10.9Q32.0 12.0 30.6 13.2M34.7 15.1Q36.9 16.2 38.2 16.6M34.9 18.7Q34.2 19.8 32.9 20.4M35.0 22.4Q36.0 23.3 37.2 24.1M35.0 24.6Q32.6 27.1 30.8 28.3M35.0 28.3Q37.2 29.3 39.6 30.3M35.2 32.4Q33.5 33.6 31.9 33.7M35.6 37.1Q38.2 38.4 39.9 39.4M35.9 41.1Q35.1 43.5 33.8 44.7M36.0 43.7Q37.5 44.0 38.4 44.5M36.0 46.2Q33.9 47.0 31.7 47.5M36.0 50.3Q37.7 52.8 39.1 54.7M36.0 52.8Q34.2 54.0 31.3 55.0M35.4 5.1Q37.2 7.7 38.3 9.9M39.7 5.6Q40.9 4.0 43.0 3.4M42.5 5.9Q43.0 7.0 43.4 8.6M33.5 29.6Q34.4 31.1 33.8 33.6M30.0 30.9Q27.8 30.5 27.1 29.0M25.8 32.5Q25.0 34.9 25.7 37.1M22.2 34.0Q20.9 32.4 18.5 29.8M33.8 38.5Q32.4 37.5 30.8 36.9M30.2 40.1Q30.6 41.3 30.7 43.7M26.9 41.6Q25.1 39.8 23.0 39.2M23.1 42.7Q22.0 44.6 21.0 45.1M19.5 43.6Q18.6 42.2 17.5 40.5M37.4 25.7Q39.8 23.3 41.1 21.5M40.3 26.6Q40.7 28.6 42.3 30.4M42.4 27.2Q43.7 26.1 45.6 24.8M46.8 29.0Q45.5 31.3 45.8 33.2M49.6 30.5Q50.8 28.1 52.8 27.2M51.8 31.8Q51.9 33.6 52.3 36.4M37.4 36.3Q38.2 39.0 38.1 40.6M42.9 37.7Q44.2 36.8 45.0 34.5M47.1 38.3Q48.9 40.6 49.8 43.0M50.6 38.7Q52.2 37.4 54.6 34.6M24.3 52.1Q24.4 50.5 25.4 47.8M27.8 52.3Q27.3 55.2 26.4 57.0M30.3 56.8Q31.4 56.3 33.5 56.9M32.6 57.0Q35.4 57.3 37.8 58.3M41.8 13.8Q41.8 13.1 43.3 11.8M46.9 13.1Q47.1 14.4 48.8 15.8M33.3 17.0Q31.3 18.4 29.3 19.6M29.5 14.9Q30.0 14.2 29.2 12.3M37.4 46.3Q37.0 47.1 38.1 48.9M42.5 47.6Q44.4 46.9 46.9 45.1M33.5 10.8Q30.6 10.0 28.7 10.7M32.0 9.6Q32.8 7.9 32.1 6.5" stroke="#ffffff" stroke-width="0.8" fill="none" stroke-linecap="round" stroke-linejoin="round" filter="url(#b0_30)"/>
<ellipse cx="14" cy="25" rx="1.2" ry="1.2" fill="#1f1f1f" filter="url(#b0_30)"/>
<ellipse cx="17" cy="33" rx="1.2" ry="1.2" fill="#1f1f1f" filter="url(#b0_30)"/>
<ellipse cx="21" cy="36" rx="1.2" ry="1.2" fill="#1f1f1f" filter="url(#b0_30)"/>
<ellipse cx="53.6" cy="59" rx="1.5" ry="1.5" fill="#262626" filter="url(#b0_30)"/>
<ellipse cx="49" cy="62" rx="1.5" ry="1.5" fill="#262626" filter="url(#b0_30)"/>
</g>
</g><g transform="translate(432 20)" clip-path="url(#c4)">
<g filter="url(#j4)">
<rect x="-2" y="-2" width="68.8" height="69.3" fill="#212121"/>
<polygon points="26,0 44,0 52,6 58,14 63,30 61,50 54,62 40,66 14,66 5,52 3,34 7,22 16,10" fill="#474747" filter="url(#b1_40)"/>
<polygon points="27,1 43,1 50,8 56,17 60,32 58,50 51,60 38,63 18,62 9,50 7,34 11,24 18,13" fill="#6b6b6b" filter="url(#b1_40)"/>
<polygon points="27,3 42,3 50,12 54,24 55,38 52,52 44,60 30,60 20,54 16,42 17,28 21,14" fill="#9e9e9e" filter="url(#b1_60)"/>
<ellipse cx="14" cy="38" rx="6" ry="12" fill="#737373" filter="url(#b2_50)"/>
<ellipse cx="20" cy="50" rx="5" ry="6" fill="#8c8c8c" filter="url(#b2_00)"/>
<ellipse cx="48" cy="28" rx="4" ry="9" fill="#999999" filter="url(#b2_50)"/>
<ellipse cx="36" cy="12" rx="8" ry="10" fill="#dbdbdb" filter="url(#b2_50)"/>
<ellipse cx="38" cy="46" rx="13" ry="12" fill="#d1d1d1" filter="url(#b3_00)"/>
<ellipse cx="32" cy="30" rx="8" ry="8" fill="#c7c7c7" filter="url(#b2_50)"/>
<ellipse cx="46" cy="30" rx="5" ry="8" fill="#bdbdbd" filter="url(#b2_50)"/>
<path d="M34 4Q34.2 9.2 35 14Q34.7 19.4 34 24Q33.6 31.7 34 40M28 32Q33.6 33.7 40 36Q45.3 34.6 50 34M24 46Q28.0 47.7 32 50Q35.8 53.9 40 58M40 44Q44.4 48.1 48 52M30 20Q25.4 22.7 22 26M38 8Q41.6 10.4 46 12M36 22Q41.4 22.4 46 22M30 56Q28.4 58.3 26 60" stroke="#b8b8b8" stroke-width="2.00" fill="none" stroke-linecap="round" stroke-linejoin="round" filter="url(#b1_00)"/>
<path d="M34 4Q34.2 9.2 35 14Q34.7 19.4 34 24Q33.6 31.7 34 40M28 32Q33.6 33.7 40 36Q45.3 34.6 50 34M24 46Q28.0 47.7 32 50Q35.8 53.9 40 58M40 44Q44.4 48.1 48 52M30 20Q25.4 22.7 22 26M38 8Q41.6 10.4 46 12M36 22Q41.4 22.4 46 22M30 56Q28.4 58.3 26 60" stroke="#ffffff" stroke-width="1.0" fill="none" stroke-linecap="round" stroke-linejoin="round" filter="url(#b0_30)"/>
<path d="M34.2 6.0Q35.8 6.2 37.5 7.0M34.5 8.9Q33.2 9.7 33.1 11.2M34.9 13.2Q35.9 14.2 37.9 15.5M34.9 15.3Q32.3 16.0 30.7 16.4M34.6 18.4Q35.9 19.7 37.3 21.7M34.1 22.7Q31.9 23.2 31.2 23.9M34.0 24.7Q36.2 26.3 38.3 27.4M34.0 28.1Q32.8 30.8 30.8 32.5M34.0 32.0Q36.4 32.9 37.8 34.6M34.0 35.3Q31.6 35.8 30.6 36.5M34.0 38.8Q35.8 39.6 38.4 40.1M29.3 32.4Q30.5 35.7 30.4 37.9M34.2 34.1Q36.7 33.3 38.8 31.4M38.6 35.5Q38.8 37.5 40.0 40.1M42.2 35.6Q42.1 34.2 42.9 33.1M45.1 35.0Q47.4 36.0 48.2 37.3M48.2 34.4Q48.5 32.0 48.6 30.7M26.8 47.4Q27.1 50.1 28.3 51.8M30.0 49.0Q32.7 48.1 35.5 47.0M34.1 52.1Q34.7 53.9 34.0 56.2M36.6 54.6Q39.5 54.4 42.2 53.1M38.6 56.6Q38.7 58.7 38.7 60.4M41.9 45.9Q42.9 48.4 42.6 51.9M43.5 47.5Q45.3 47.3 46.5 47.0M47.0 51.0Q46.8 53.3 45.4 54.4M29.2 20.6Q26.9 19.2 25.1 18.6M26.8 22.4Q26.0 25.5 25.5 27.5M22.6 25.6Q20.3 25.3 19.3 23.8M39.8 8.9Q41.3 7.2 43.4 7.0M43.3 10.6Q45.1 12.6 45.3 15.0M37.9 22.0Q40.2 24.5 40.9 26.7M40.9 22.0Q41.3 20.3 42.7 18.7M44.3 22.0Q45.6 22.8 47.3 24.9M27.8 58.2Q26.9 60.5 27.4 61.7" stroke="#ffffff" stroke-width="0.8" fill="none" stroke-linecap="round" stroke-linejoin="round" filter="url(#b0_30)"/>
<ellipse cx="24" cy="18" rx="1.3" ry="1.3" fill="#262626" filter="url(#b0_30)"/>
<ellipse cx="28" cy="26" rx="1.3" ry="1.3" fill="#262626" filter="url(#b0_30)"/>
<ellipse cx="25" cy="34" rx="1.3" ry="1.3" fill="#262626" filter="url(#b0_30)"/>
<ellipse cx="30" cy="46" rx="1.3" ry="1.3" fill="#262626" filter="url(#b0_30)"/>
<ellipse cx="22" cy="56" rx="1.3" ry="1.3" fill="#262626" filter="url(#b0_30)"/>
<ellipse cx="27" cy="12" rx="1.2" ry="1.5" fill="#262626" filter="url(#b0_30)"/>
</g>
<polygon points="0,25 2,26 2,32 0,33" fill="#787878"/>
</g><g transform="translate(167 90)" clip-path="url(#c5)">
<g filter="url(#j5)">
<rect x="-2" y="-2" width="68.2" height="68.8" fill="#1f1f1f"/>
<polygon points="22,2 42,2 52,8 58,18 61,32 58,46 50,57 40,64 26,66 14,61 7,50 4,34 7,20 13,9" fill="#424242" filter="url(#b0_90)"/>
<polygon points="22.72,3.92 41.52,3.92 50.92,9.56 56.56,18.96 59.38,32.12 56.56,45.28 49.04,55.62 39.64,62.2 26.48,64.08 15.2,59.38 8.62,49.04 5.8,34 8.62,20.84 14.26,10.5" fill="#6b6b6b" filter="url(#b1_10)"/>
<polygon points="23.82,6.34 41.02,6.34 49.62,11.5 54.78,20.1 57.36,32.14 54.78,44.18 47.9,53.64 39.3,59.66 27.26,61.38 16.94,57.08 10.92,47.62 8.34,33.86 10.92,21.82 16.08,12.36" fill="#999999" filter="url(#b1_40)"/>
<ellipse cx="12" cy="38" rx="5" ry="13" fill="#6e6e6e" filter="url(#b2_00)"/>
<ellipse cx="48" cy="50" rx="6" ry="6" fill="#787878" filter="url(#b2_00)"/>
<ellipse cx="35" cy="26" rx="10" ry="14" fill="#adadad" filter="url(#b3_00)"/>
<ellipse cx="24" cy="52" rx="8" ry="6" fill="#cccccc" filter="url(#b2_50)"/>
<path d="M35 7Q35.0 13.9 35 20Q35.6 26.7 35 34Q35.3 40.7 35 47M35 16Q31.7 16.5 28 18Q24.4 18.9 22 20M35 22Q30.8 24.2 26 27Q21.0 28.8 16 31M36 20Q40.4 22.5 44 24Q46.4 26.1 49 27M36 32Q39.5 33.4 44 34Q48.0 34.1 51 35M35 40Q31.7 42.1 28 44Q25.5 45.7 22 48M20 52Q24.0 51.5 28 50Q30.2 47.8 32 46M36 10Q38.5 11.5 42 12M24 56Q27.0 57.6 30 58M16 56Q18.6 55.4 22 54" stroke="#b8b8b8" stroke-width="2.20" fill="none" stroke-linecap="round" stroke-linejoin="round" filter="url(#b1_00)"/>
<path d="M35 7Q35.0 13.9 35 20Q35.6 26.7 35 34Q35.3 40.7 35 47M35 16Q31.7 16.5 28 18Q24.4 18.9 22 20M35 22Q30.8 24.2 26 27Q21.0 28.8 16 31M36 20Q40.4 22.5 44 24Q46.4 26.1 49 27M36 32Q39.5 33.4 44 34Q48.0 34.1 51 35M35 40Q31.7 42.1 28 44Q25.5 45.7 22 48M20 52Q24.0 51.5 28 50Q30.2 47.8 32 46M36 10Q38.5 11.5 42 12M24 56Q27.0 57.6 30 58M16 56Q18.6 55.4 22 54" stroke="#ffffff" stroke-width="1.1" fill="none" stroke-linecap="round" stroke-linejoin="round" filter="url(#b0_30)"/>
<path d="M35.0 8.0Q37.0 10.3 38.7 12.0M35.0 12.3Q33.2 13.1 31.5 13.4M35.0 14.4Q35.9 15.5 37.1 16.2M35.0 18.2Q33.2 20.1 32.4 21.2M35.0 22.6Q36.6 24.4 38.3 26.4M35.0 24.7Q32.6 26.4 31.6 27.7M35.0 27.8Q37.0 28.2 38.6 29.1M35.0 32.0Q33.2 32.9 32.5 34.2M35.0 35.2Q36.0 35.1 37.2 36.6M35.0 38.8Q33.9 40.9 31.6 43.4M35.0 41.5Q36.2 44.0 37.6 45.0M35.0 45.5Q32.4 46.1 29.8 48.2M33.9 16.3Q33.1 15.8 31.3 14.0M30.2 17.4Q29.7 18.7 30.2 19.9M24.3 19.2Q22.4 18.8 19.8 17.1M33.1 23.0Q33.7 25.3 32.9 27.9M30.8 24.3Q29.4 23.4 26.9 23.1M27.5 26.2Q27.2 27.1 28.3 29.4M23.9 27.9Q22.3 27.3 20.3 26.8M20.9 29.0Q20.9 30.5 20.5 31.5M16.7 30.7Q14.2 29.4 13.0 28.5M37.8 20.9Q39.0 19.3 41.6 17.1M41.8 22.9Q42.4 25.8 42.7 28.6M45.0 24.6Q46.2 23.5 48.2 23.2M38.2 32.6Q38.2 34.5 38.5 37.0M42.3 33.6Q43.8 32.3 44.9 30.3M45.8 34.3Q46.7 35.7 49.0 37.6M49.4 34.8Q51.0 32.9 53.3 31.0M33.1 41.1Q31.2 40.5 27.9 39.5M28.8 43.5Q28.5 44.9 29.7 47.3M25.7 45.5Q25.0 45.5 23.4 44.3M23.1 47.3Q23.1 50.1 24.0 52.5M22.2 51.5Q23.0 50.5 24.3 48.7M26.4 50.4Q26.8 51.7 28.6 51.8M29.0 49.0Q28.2 46.4 28.2 44.6M39.0 11.0Q41.1 9.2 42.4 7.6M28.4 57.5Q28.7 59.1 30.1 60.6M18.7 55.1Q21.4 56.4 22.9 56.4" stroke="#ffffff" stroke-width="0.8" fill="none" stroke-linecap="round" stroke-linejoin="round" filter="url(#b0_30)"/>
<path d="M35 8 L35 46" stroke="#b8b8b8" stroke-width="3.20" fill="none" stroke-linecap="round" stroke-linejoin="round" filter="url(#b1_00)"/>
<path d="M35 8 L35 46" stroke="#fafafa" stroke-width="1.6" fill="none" stroke-linecap="round" stroke-linejoin="round" filter="url(#b0_40)"/>
</g>
<polygon points="0,0 36,0 34,2.5 20,3.5 8,5 6,12 2,16 0,16" fill="#787878"/>
<polygon points="40,0 65,0 65,11 60,10 52,5" fill="#787878"/>
<polygon points="65,34 65,66 49,66 55,58 61,45" fill="#787878"/>
<polygon points="0,48 4,50 3.5,66 0,66" fill="#787878"/>
</g><g transform="translate(233 90)" clip-path="url(#c6)">
<g filter="url(#j6)">
<rect x="-2" y="-2" width="68.9" height="68.8" fill="#1a1a1a"/>
<polygon points="26,0 48,1 55,8 60,22 60,40 56,54 48,63 32,66 20,64 12,56 8,42 8,26 11,12 18,4" fill="#2b2b2b" filter="url(#b1_00)"/>
<path d="M18 4 Q9 14 9 30 Q9 48 18 60" stroke="#454545" stroke-width="1.6" fill="none" stroke-linecap="round" stroke-linejoin="round" filter="url(#b0_80)"/>
<polygon points="14,8 27,3 28,20 20,24 13,20" fill="#454545" filter="url(#b2_00)"/>
<ellipse cx="20" cy="40" rx="6" ry="12" fill="#303030" filter="url(#b3_00)"/>
<path d="M26.2 10.5L22.4 10.9L18.2 10.5L14.4 8.2L9.9 11.2M27.3 15.9L22.8 17.9L18.4 17.5L13.4 16.4M27.0 16.6L23.4 17.1L20.5 20.3L17.7 18.7L14.2 19.5L11.3 22.9M27.7 22.6L22.7 25.1L18.2 24.6L12.1 23.5M27.9 24.6L25.4 27.6L22.0 30.6L18.9 29.7L16.4 29.7L12.9 28.3M27.3 31.9L23.2 32.3L19.4 35.4L16.1 34.1L12.6 36.0M27.2 33.7L22.6 36.7L17.7 39.1L12.4 42.2M26.5 36.9L23.4 37.0L20.8 35.8L18.0 37.9L15.2 38.0L11.8 40.8M28.0 43.8L25.5 45.1L22.0 44.7L19.4 47.0L16.3 47.3L12.8 50.1M26.1 45.3L20.3 48.3L15.5 46.2L10.3 46.3M26.5 51.4L21.9 51.7L18.7 53.3L15.0 55.9L11.0 55.6M27.2 53.0L22.1 56.4L18.0 55.5L12.1 57.2" stroke="#4c4c4c" stroke-width="0.8" fill="none" stroke-linecap="round" stroke-linejoin="round" filter="url(#b0_50)"/>
<polygon points="26,1 46,2 53,10 56,24 55,40 50,52 44,62 22,62 22,52 27,40 27,20" fill="#616161" filter="url(#b1_20)"/>
<polygon points="30,2 43,3 49,11 52,24 51,38 47,50 40,58 24,59 26,52 31,40 31,18" fill="#949494" filter="url(#b1_30)"/>
<ellipse cx="38" cy="18" rx="7" ry="12" fill="#a8a8a8" filter="url(#b2_50)"/>
<path d="M29 4Q37.3 4.2 45 4M36 4Q35.9 11.6 36 20Q36.2 27.6 36 34Q35.9 39.9 36 45Q28.4 50.0 22 55M37 11Q41.6 14.5 47 18M36 20Q42.1 23.9 48 27M36 29Q41.0 32.9 46 36M35 16Q32.3 18.6 30 22M35 30Q32.0 31.8 29 33M22 55Q28.2 53.9 34 54Q38.7 54.2 44 55M40 8Q42.0 10.4 44 12M36 40Q39.7 41.5 44 44" stroke="#b8b8b8" stroke-width="2.20" fill="none" stroke-linecap="round" stroke-linejoin="round" filter="url(#b1_00)"/>
<path d="M29 4Q37.3 4.2 45 4M36 4Q35.9 11.6 36 20Q36.2 27.6 36 34Q35.9 39.9 36 45Q28.4 50.0 22 55M37 11Q41.6 14.5 47 18M36 20Q42.1 23.9 48 27M36 29Q41.0 32.9 46 36M35 16Q32.3 18.6 30 22M35 30Q32.0 31.8 29 33M22 55Q28.2 53.9 34 54Q38.7 54.2 44 55M40 8Q42.0 10.4 44 12M36 40Q39.7 41.5 44 44" stroke="#ffffff" stroke-width="1.1" fill="none" stroke-linecap="round" stroke-linejoin="round" filter="url(#b0_30)"/>
<path d="M30.6 4.0Q31.4 4.9 32.5 5.8M34.3 4.0Q35.7 2.0 38.2 -0.4M36.1 4.0Q37.9 5.3 38.2 6.0M40.3 4.0Q41.1 1.8 42.3 -1.5M43.0 4.0Q44.0 6.7 45.4 8.8M36.0 4.8Q37.1 5.1 38.9 6.1M36.0 8.4Q34.7 8.4 32.2 9.6M36.0 11.5Q37.9 13.2 38.4 14.9M36.0 15.6Q34.7 17.4 34.2 17.6M36.0 18.8Q38.1 19.1 41.0 20.4M36.0 22.0Q34.7 23.2 33.3 25.2M36.0 26.2Q37.0 29.3 39.5 30.8M36.0 28.6Q34.8 30.2 32.9 32.1M36.0 32.2Q37.2 33.3 39.0 33.8M36.0 35.7Q34.5 36.6 32.2 37.2M36.0 38.9Q37.7 40.7 39.4 41.8M36.0 43.5Q35.1 45.0 33.0 45.1M34.8 45.8Q35.1 47.1 36.0 49.8M31.5 48.2Q29.2 46.5 27.2 46.0M29.8 49.4Q30.8 52.3 30.3 54.2M26.1 52.1Q25.8 51.3 24.1 50.5M23.5 54.0Q23.6 56.4 23.8 57.7M39.5 12.7Q39.5 14.7 39.5 15.9M41.6 14.2Q43.6 12.4 46.0 12.2M45.8 17.1Q45.4 20.4 46.6 23.0M38.2 21.3Q38.1 24.3 37.3 26.8M40.9 22.9Q42.5 21.2 44.4 20.5M43.3 24.3Q43.1 27.7 43.7 29.9M47.0 26.4Q50.1 26.3 51.6 24.9M37.3 29.9Q38.9 29.4 41.1 28.9M41.7 33.0Q41.6 34.8 41.1 36.4M43.5 34.3Q44.5 34.3 46.9 33.7M34.3 16.8Q31.9 16.9 28.5 17.9M30.8 21.0Q30.1 24.2 30.6 25.9M33.5 30.8Q33.1 31.6 33.3 33.5M30.9 32.0Q29.0 31.8 26.8 31.4M24.0 54.8Q23.7 53.8 24.9 51.4M27.3 54.6Q29.3 56.0 30.0 57.1M32.2 54.1Q32.8 52.9 33.9 51.0M35.9 54.2Q38.5 56.0 39.7 58.6M39.7 54.6Q40.5 51.5 41.9 49.3M41.6 54.8Q42.7 55.9 43.2 57.7M42.5 10.5Q43.1 13.5 42.8 16.4M38.3 41.1Q40.5 40.5 42.3 39.2M42.0 43.0Q42.6 45.4 42.5 46.5" stroke="#ffffff" stroke-width="0.8" fill="none" stroke-linecap="round" stroke-linejoin="round" filter="url(#b0_30)"/>
<path d="M36 5 L36 44" stroke="#b8b8b8" stroke-width="3.00" fill="none" stroke-linecap="round" stroke-linejoin="round" filter="url(#b1_00)"/>
<path d="M36 5 L36 44" stroke="#fafafa" stroke-width="1.5" fill="none" stroke-linecap="round" stroke-linejoin="round" filter="url(#b0_40)"/>
</g>
<polygon points="0,0 5,0 4,10 5,20 4,30 5,42 4,55 0,56" fill="#787878"/>
<polygon points="53,0 65,0 65,11 58,8" fill="#787878"/>
<polygon points="60,24 65,22 65,66 51,66 56,60 60,50" fill="#787878"/>
</g><g transform="translate(299 90)" clip-path="url(#c7)">
<g filter="url(#j7)">
<rect x="-2" y="-2" width="69" height="68.8" fill="#1a1a1a"/>
<polygon points="24,3 50,3 56,12 59,28 58,44 54,56 50,66 14,66 8,52 6,36 9,20 15,8" fill="#2b2b2b" filter="url(#b1_00)"/>
<polygon points="10,14 31,6 31,40 28,58 14,60 8,46 8,28" fill="#303030" filter="url(#b1_50)"/>
<path d="M31 6 Q16 6 10 16" stroke="#4c4c4c" stroke-width="1.5" fill="none" stroke-linecap="round" stroke-linejoin="round" filter="url(#b0_80)"/>
<ellipse cx="14" cy="28" rx="5" ry="8" fill="#3d3d3d" filter="url(#b2_50)"/>
<path d="M30.7 12.6L27.1 15.4L23.2 14.2L19.5 16.1L14.9 19.5L11.5 18.2M29.4 15.5L24.2 16.2L19.3 19.3L14.8 17.7L8.8 16.7M30.1 19.4L23.9 17.0L18.0 15.8L12.8 18.7M30.7 26.7L22.8 24.3L17.1 24.1L11.4 24.2M29.8 29.2L25.9 28.1L22.2 28.0L18.4 30.9L14.6 28.5L10.1 31.5M30.4 37.2L25.5 36.4L19.7 37.9L14.9 38.4L9.0 41.5M29.8 41.9L26.2 41.0L21.7 43.3L17.3 46.4L13.1 46.2L9.3 44.5M30.0 44.8L25.9 42.9L21.9 42.5L17.4 45.0L13.3 46.4L9.5 45.6M29.5 52.0L25.1 54.5L21.5 53.7L17.6 56.0L12.8 57.0L9.5 59.9M30.5 54.2L24.7 56.2L18.7 55.0L11.2 54.0" stroke="#454545" stroke-width="0.8" fill="none" stroke-linecap="round" stroke-linejoin="round" filter="url(#b0_50)"/>
<path d="M11 18 Q8 34 11 52" stroke="#4c4c4c" stroke-width="1.2" fill="none" stroke-linecap="round" stroke-linejoin="round" filter="url(#b0_80)"/>
<polygon points="31,4 46,4 54,14 57,30 55,46 52,56 45,62 26,62 22,56 30,48 30,20" fill="#666666" filter="url(#b1_20)"/>
<polygon points="33,5 45,5 51,14 54,30 52,46 49,54 40,57 33,52 33,30" fill="#949494" filter="url(#b1_30)"/>
<polygon points="20,56 48,52 52,58 52,66 18,66" fill="#bfbfbf" filter="url(#b2_00)"/>
<ellipse cx="24" cy="53" rx="5" ry="3" fill="#737373" filter="url(#b1_50)"/>
<path d="M33 7Q39.0 7.4 46 7M34 8Q34.1 18.7 34 30Q34.3 42.1 34 54M34 14Q40.4 19.1 46 24M34 24Q41.3 29.3 48 34M35 34Q42.3 38.5 50 44M35 44Q42.0 47.5 48 52M22 58Q29.1 58.1 36 57Q41.8 58.2 48 60M28 62Q33.9 61.6 40 62" stroke="#b8b8b8" stroke-width="2.20" fill="none" stroke-linecap="round" stroke-linejoin="round" filter="url(#b1_00)"/>
<path d="M33 7Q39.0 7.4 46 7M34 8Q34.1 18.7 34 30Q34.3 42.1 34 54M34 14Q40.4 19.1 46 24M34 24Q41.3 29.3 48 34M35 34Q42.3 38.5 50 44M35 44Q42.0 47.5 48 52M22 58Q29.1 58.1 36 57Q41.8 58.2 48 60M28 62Q33.9 61.6 40 62" stroke="#ffffff" stroke-width="1.1" fill="none" stroke-linecap="round" stroke-linejoin="round" filter="url(#b0_30)"/>
<path d="M34.1 7.0Q34.8 5.9 35.3 4.5M38.0 7.0Q38.4 8.6 38.8 9.9M40.3 7.0Q41.0 5.4 43.2 2.7M44.8 7.0Q45.3 8.3 47.4 9.3M34.0 9.3Q32.2 9.3 30.8 10.3M34.0 13.7Q36.8 15.0 38.6 15.6M34.0 17.5Q32.7 19.9 29.9 21.6M34.0 21.9Q37.0 23.4 39.2 23.8M34.0 24.9Q32.0 27.2 30.5 29.1M34.0 29.0Q35.5 30.6 36.8 31.0M34.0 32.4Q31.7 33.1 28.5 33.9M34.0 34.5Q36.0 35.1 36.5 35.3M34.0 38.0Q31.7 39.8 30.7 41.8M34.0 41.2Q35.3 41.7 36.2 43.8M34.0 46.2Q32.9 46.3 31.0 47.8M34.0 48.3Q36.5 49.2 38.5 51.5M34.0 53.2Q33.1 53.7 31.9 55.6M34.9 14.7Q34.6 17.7 34.4 19.5M37.7 17.1Q38.7 16.4 41.2 14.9M42.2 20.8Q42.8 22.8 42.1 24.0M45.2 23.3Q47.9 21.9 50.5 21.7M34.8 24.6Q35.9 23.2 37.8 22.4M39.0 27.5Q39.3 30.3 38.1 33.3M41.5 29.4Q43.8 29.0 46.9 29.2M44.1 31.2Q43.8 33.2 44.0 35.6M47.3 33.5Q48.8 32.8 49.9 33.5M36.8 35.2Q37.2 36.7 36.6 39.1M40.1 37.4Q41.3 37.1 43.1 36.7M42.3 38.9Q43.0 41.4 43.7 43.5M45.5 41.0Q47.8 41.1 48.5 40.2M48.2 42.8Q48.6 44.2 49.3 47.2M36.6 45.0Q39.1 43.9 40.7 42.2M39.3 46.7Q38.8 47.7 39.0 49.4M42.9 48.9Q45.2 48.4 46.3 46.6M46.7 51.2Q46.1 54.1 46.3 56.4M23.7 57.9Q24.6 57.1 25.8 55.9M26.9 57.6Q27.4 58.3 28.0 60.4M31.3 57.3Q32.1 55.3 32.9 54.1M34.2 57.1Q35.9 58.2 37.2 60.8M38.9 57.7Q40.8 56.5 41.6 56.4M42.3 58.6Q42.1 59.8 43.2 61.7M47.0 59.8Q48.2 58.4 49.5 57.2M29.3 62.0Q31.2 61.1 31.8 59.1M33.9 62.0Q35.5 63.8 36.3 64.9M37.6 62.0Q38.9 60.7 40.1 59.9" stroke="#ffffff" stroke-width="0.8" fill="none" stroke-linecap="round" stroke-linejoin="round" filter="url(#b0_30)"/>
<path d="M34 8 L34 55" stroke="#b8b8b8" stroke-width="3.20" fill="none" stroke-linecap="round" stroke-linejoin="round" filter="url(#b1_00)"/>
<path d="M34 8 L34 55" stroke="#fafafa" stroke-width="1.6" fill="none" stroke-linecap="round" stroke-linejoin="round" filter="url(#b0_40)"/>
</g>
<polygon points="0,0 6,0 5,8 0,10" fill="#787878"/>
<polygon points="37,0 57,0 57,3.5 50,5 37,3" fill="#787878"/>
<polygon points="2.5,5 4,5 6,9 4.5,9" fill="#787878"/>
<polygon points="12,5 14,5 14,9 12,9" fill="#787878"/>
</g><g transform="translate(366 90)" clip-path="url(#c8)">
<g filter="url(#j8)">
<rect x="-2" y="-2" width="68.1" height="68.8" fill="#1f1f1f"/>
<polygon points="25,1 45,4 54,10 59,22 60,38 56,52 48,62 36,66 20,64 13,56 10,40 11,24 17,9" fill="#4c4c4c" filter="url(#b1_00)"/>
<polygon points="25.77,3.31 44.37,6.1 52.74,11.68 57.39,22.84 58.32,37.72 54.6,50.74 47.16,60.04 36,63.76 21.12,61.9 14.61,54.46 11.82,39.58 12.75,24.7 18.33,10.75" fill="#6b6b6b" filter="url(#b1_20)"/>
<polygon points="27.4,7.2 43.4,9.6 50.6,14.4 54.6,24 55.4,36.8 52.2,48 45.8,56 36.2,59.2 23.4,57.6 17.8,51.2 15.4,38.4 16.2,25.6 21,13.6" fill="#999999" filter="url(#b1_60)"/>
<ellipse cx="16" cy="40" rx="4" ry="14" fill="#666666" filter="url(#b2_00)"/>
<ellipse cx="38" cy="30" rx="11" ry="16" fill="#adadad" filter="url(#b3_00)"/>
<path d="M31 9Q32.6 15.3 34 22Q35.4 28.7 36 36Q36.0 43.3 36 51M29 9Q32.4 10.1 36 10Q38.5 8.9 42 8M35 20Q32.2 23.8 30 28Q27.6 31.8 24 36M36 18Q40.6 19.9 45 22Q48.3 23.4 51 25M36 30Q40.1 32.9 45 36Q48.4 35.9 52 35M36 36Q33.1 36.6 30 38M44 10Q42.2 12.8 40 16M36 44Q39.0 45.7 42 48" stroke="#b8b8b8" stroke-width="2.20" fill="none" stroke-linecap="round" stroke-linejoin="round" filter="url(#b1_00)"/>
<path d="M31 9Q32.6 15.3 34 22Q35.4 28.7 36 36Q36.0 43.3 36 51M29 9Q32.4 10.1 36 10Q38.5 8.9 42 8M35 20Q32.2 23.8 30 28Q27.6 31.8 24 36M36 18Q40.6 19.9 45 22Q48.3 23.4 51 25M36 30Q40.1 32.9 45 36Q48.4 35.9 52 35M36 36Q33.1 36.6 30 38M44 10Q42.2 12.8 40 16M36 44Q39.0 45.7 42 48" stroke="#ffffff" stroke-width="1.1" fill="none" stroke-linecap="round" stroke-linejoin="round" filter="url(#b0_30)"/>
<path d="M31.2 9.7Q28.9 10.6 27.0 12.3M32.3 14.6Q33.8 16.2 36.5 17.3M32.8 16.7Q31.2 19.3 29.8 21.6M33.6 20.3Q35.7 20.8 37.0 20.5M34.3 24.4Q31.0 25.6 29.1 26.6M34.9 28.2Q36.6 29.4 39.0 31.3M35.4 31.6Q34.5 34.0 32.7 34.9M35.8 34.7Q37.7 35.2 38.8 35.7M36.0 37.2Q33.5 38.1 31.7 38.7M36.0 41.9Q37.5 43.7 40.2 45.0M36.0 44.6Q32.8 45.2 30.6 46.6M36.0 48.5Q37.6 49.2 39.1 49.4M30.0 9.1Q31.6 10.9 33.7 13.6M33.5 9.6Q34.8 7.6 36.5 6.4M38.6 9.1Q39.3 10.1 40.8 11.9M33.6 22.3Q34.4 25.0 35.2 27.0M30.8 26.8Q27.9 26.2 25.7 25.3M29.1 29.2Q29.4 32.0 29.7 34.4M26.6 32.6Q25.1 32.6 23.3 31.6M24.7 35.0Q25.8 37.4 27.2 38.7M37.9 18.8Q37.5 20.6 37.5 23.2M40.8 20.1Q44.2 19.5 46.3 18.3M44.3 21.7Q45.1 24.7 45.3 27.6M46.2 22.6Q47.1 20.9 48.9 19.7M48.6 23.8Q48.2 24.5 49.0 26.7M38.0 31.3Q37.2 33.8 36.9 35.2M40.2 32.8Q41.1 31.8 43.5 31.5M42.6 34.4Q42.7 36.5 44.1 38.7M47.3 35.7Q48.9 35.0 49.6 33.3M49.8 35.3Q51.4 36.3 53.6 37.8M33.5 36.8Q31.5 35.3 30.1 35.3M43.2 11.1Q40.9 12.2 38.4 12.4M40.6 15.1Q41.1 16.7 40.9 17.6M37.5 45.0Q37.9 47.5 38.8 48.7M39.8 46.5Q42.8 45.2 45.1 45.3" stroke="#ffffff" stroke-width="0.8" fill="none" stroke-linecap="round" stroke-linejoin="round" filter="url(#b0_30)"/>
<path d="M32 10 L36 40" stroke="#b8b8b8" stroke-width="3.20" fill="none" stroke-linecap="round" stroke-linejoin="round" filter="url(#b1_00)"/>
<path d="M32 10 L36 40" stroke="#f5f5f5" stroke-width="1.6" fill="none" stroke-linecap="round" stroke-linejoin="round" filter="url(#b0_50)"/>
</g>
<polygon points="7,0 10,0 14,5 12,6" fill="#787878"/>
</g><g transform="translate(432.9 90)" clip-path="url(#c9)">
<g filter="url(#j9)">
<rect x="-2" y="-2" width="69.0" height="68.8" fill="#212121"/>
<polygon points="24,0 44,0 54,9 60,20 63,36 61,52 54,62 40,66 6,66 2,52 4,38 10,22 16,10" fill="#4c4c4c" filter="url(#b1_20)"/>
<polygon points="25,3.6 43,3.6 52,11.7 57.4,21.6 60.1,36 58.3,50.4 52,59.4 39.4,63 8.8,63 5.2,50.4 7,37.8 12.4,23.4 17.8,12.6" fill="#707070" filter="url(#b1_40)"/>
<polygon points="27.12,8.32 41.92,8.32 49.32,14.98 53.76,23.12 55.98,34.96 54.5,46.8 49.32,54.2 38.96,57.16 13.8,57.16 10.84,46.8 12.32,36.44 16.76,24.6 21.2,15.72" fill="#999999" filter="url(#b1_80)"/>
<ellipse cx="12" cy="40" rx="5" ry="12" fill="#808080" filter="url(#b2_50)"/>
<ellipse cx="20" cy="56" rx="6" ry="4" fill="#757575" filter="url(#b2_00)"/>
<ellipse cx="34" cy="10" rx="6" ry="7" fill="#d6d6d6" filter="url(#b2_00)"/>
<ellipse cx="40" cy="32" rx="11" ry="9" fill="#cccccc" filter="url(#b2_50)"/>
<ellipse cx="26" cy="40" rx="6" ry="6" fill="#c7c7c7" filter="url(#b2_50)"/>
<ellipse cx="38" cy="48" rx="9" ry="5" fill="#c7c7c7" filter="url(#b2_50)"/>
<ellipse cx="30" cy="22" rx="5" ry="5" fill="#bdbdbd" filter="url(#b2_00)"/>
<ellipse cx="48" cy="20" rx="4" ry="6" fill="#8c8c8c" filter="url(#b2_00)"/>
<path d="M34 4Q33.4 11.5 34 20M22 34Q27.9 32.2 34 30Q39.6 31.5 46 34Q48.7 37.3 52 40M30 44Q34.6 46.3 40 48M40 22Q44.2 23.6 48 26M28 24Q25.0 26.9 22 30" stroke="#b8b8b8" stroke-width="2.00" fill="none" stroke-linecap="round" stroke-linejoin="round" filter="url(#b1_00)"/>
<path d="M34 4Q33.4 11.5 34 20M22 34Q27.9 32.2 34 30Q39.6 31.5 46 34Q48.7 37.3 52 40M30 44Q34.6 46.3 40 48M40 22Q44.2 23.6 48 26M28 24Q25.0 26.9 22 30" stroke="#ffffff" stroke-width="1.0" fill="none" stroke-linecap="round" stroke-linejoin="round" filter="url(#b0_30)"/>
<path d="M34.0 5.4Q31.6 6.9 30.8 7.6M34.0 8.1Q36.8 9.2 39.0 11.2M34.0 12.4Q32.2 14.1 28.8 15.1M34.0 16.1Q36.7 17.8 38.2 18.8M34.0 18.9Q33.0 19.7 31.2 21.9M23.4 33.5Q25.9 34.8 27.4 37.1M29.0 31.7Q29.4 31.0 29.6 28.8M31.7 30.8Q33.8 33.2 34.4 34.6M34.9 30.3Q36.0 28.0 37.7 27.4M39.2 31.7Q39.4 32.6 39.5 34.5M43.8 33.3Q45.9 33.0 47.9 31.8M48.2 36.2Q47.8 37.8 47.5 40.0M51.4 39.4Q53.3 38.6 54.3 39.1M31.3 44.5Q32.3 42.8 33.6 42.2M34.5 45.8Q33.7 49.0 34.0 51.8M37.3 46.9Q38.7 45.3 40.9 45.1M41.3 22.6Q44.0 22.0 46.0 20.6M45.6 24.8Q45.6 27.6 44.7 30.0M26.0 26.0Q25.6 27.2 26.2 30.0M23.1 28.9Q21.3 27.7 18.2 27.7" stroke="#ffffff" stroke-width="0.8" fill="none" stroke-linecap="round" stroke-linejoin="round" filter="url(#b0_30)"/>
<ellipse cx="31" cy="16" rx="1.3" ry="1.3" fill="#333333" filter="url(#b0_30)"/>
</g>
<polygon points="22,0 25,0 26,3 24,4" fill="#787878"/>
</g>
<rect x="408.2" y="157.2" width="84.8" height="3.7" fill="url(#jet)"/>
<path d="M408.4 161V163.6M428.2 161V163.6M448 161V163.6M467.8 161V163.6M487.5 161V163.6" stroke="#222" stroke-width="0.8"/>
<g font-size="7.6" fill="#222" text-anchor="middle">
<text x="408.5" y="173.4">0</text><text x="428.3" y="173.4">400</text><text x="448.1" y="173.4">800</text><text x="467.9" y="173.4">1200</text><text x="487.6" y="173.4">1600</text>
<text x="505.8" y="173.4">(PU)</text></g>
<text x="150.2" y="200.1" text-anchor="middle" font-size="10.2" fill="#b5173e">RB-PTS</text>
<text x="389.9" y="200.1" text-anchor="middle" font-size="10.2" fill="#2f5a8f">T+RB-PTS</text>
<g fill="#1a1a1a">
<path d="M56.1 206.1V323.4M53 323.4H244" stroke="#111" stroke-width="1.1" fill="none"/>
<path d="M52.80 323.40H56.1M52.80 304.35H56.1M52.80 285.30H56.1M52.80 266.25H56.1M52.80 247.20H56.1M52.80 228.15H56.1M52.80 209.10H56.1M71.40 323.4V326.6M102.72 323.4V326.6M134.04 323.4V326.6M165.36 323.4V326.6M196.68 323.4V326.6M228.00 323.4V326.6" stroke="#111" stroke-width="1" fill="none"/>
<text x="48.90" y="326.30" text-anchor="end" font-size="8.4">0</text>
<text x="48.90" y="307.25" text-anchor="end" font-size="8.4">20</text>
<text x="48.90" y="288.20" text-anchor="end" font-size="8.4">40</text>
<text x="48.90" y="269.15" text-anchor="end" font-size="8.4">60</text>
<text x="48.90" y="250.10" text-anchor="end" font-size="8.4">80</text>
<text x="48.90" y="231.05" text-anchor="end" font-size="8.4">100</text>
<text x="48.90" y="212.00" text-anchor="end" font-size="8.4">120</text>
<text x="71.40" y="337.2" text-anchor="middle" font-size="8.6">Pre</text>
<text x="102.72" y="337.2" text-anchor="middle" font-size="8.6">5h</text>
<text x="134.04" y="337.2" text-anchor="middle" font-size="8.6">1d</text>
<text x="165.36" y="337.2" text-anchor="middle" font-size="8.6">3d</text>
<text x="196.68" y="337.2" text-anchor="middle" font-size="8.6">5d</text>
<text x="228.00" y="337.2" text-anchor="middle" font-size="8.6">7d</text>
<path d="M96.2 342.9H237" stroke="#111" stroke-width="1"/>
<text x="166.60" y="353.4" text-anchor="middle" font-size="8.4">post-stroke</text>
<text transform="translate(24.80 262) rotate(-90) scale(0.745 1)" x="0" y="3.5" text-anchor="middle" font-size="10" stroke="#1a1a1a" stroke-width="0.32">Mean relative CBF (% of contral.)</text>
<path d="M134.20 269.20V278.40M131.10 269.20h6.2M131.10 278.40h6.2" stroke="#111" stroke-width="1" fill="none"/>
<circle cx="71.40" cy="228.30" r="2.75" fill="#fff" stroke="#111" stroke-width="1.1"/>
<circle cx="102.70" cy="291.00" r="2.75" fill="#fff" stroke="#111" stroke-width="1.1"/>
<circle cx="134.20" cy="273.80" r="2.75" fill="#fff" stroke="#111" stroke-width="1.1"/>
<circle cx="165.45" cy="260.00" r="2.75" fill="#fff" stroke="#111" stroke-width="1.1"/>
<circle cx="196.65" cy="249.40" r="2.75" fill="#fff" stroke="#111" stroke-width="1.1"/>
<circle cx="227.90" cy="247.00" r="2.75" fill="#fff" stroke="#111" stroke-width="1.1"/>
<path d="M71.40 228.30 L102.70 291.00 L134.20 273.80 L165.45 260.00 L196.65 249.40 L227.90 247.00" stroke="#b5002a" stroke-width="1.35" fill="none" stroke-linejoin="round"/>
<text x="134.20" y="266.30" text-anchor="middle" font-size="7.6" font-weight="bold" letter-spacing="-0.3">*</text>
<text x="165.60" y="252.80" text-anchor="middle" font-size="7.6" font-weight="bold" letter-spacing="-0.3">***</text>
<text x="196.60" y="243.30" text-anchor="middle" font-size="7.6" font-weight="bold" letter-spacing="-0.3">***</text>
<text x="228.10" y="240.70" text-anchor="middle" font-size="7.6" font-weight="bold" letter-spacing="-0.3">***</text>
<path d="M296.9 206.1V323.4M293.5 323.4H483.1" stroke="#111" stroke-width="1.1" fill="none"/>
<path d="M293.60 323.40H296.9M293.60 304.35H296.9M293.60 285.30H296.9M293.60 266.25H296.9M293.60 247.20H296.9M293.60 228.15H296.9M293.60 209.10H296.9M312.10 323.4V326.6M343.12 323.4V326.6M374.14 323.4V326.6M405.16 323.4V326.6M436.18 323.4V326.6M467.20 323.4V326.6" stroke="#111" stroke-width="1" fill="none"/>
<text x="289.70" y="326.30" text-anchor="end" font-size="8.4">0</text>
<text x="289.70" y="307.25" text-anchor="end" font-size="8.4">20</text>
<text x="289.70" y="288.20" text-anchor="end" font-size="8.4">40</text>
<text x="289.70" y="269.15" text-anchor="end" font-size="8.4">60</text>
<text x="289.70" y="250.10" text-anchor="end" font-size="8.4">80</text>
<text x="289.70" y="231.05" text-anchor="end" font-size="8.4">100</text>
<text x="289.70" y="212.00" text-anchor="end" font-size="8.4">120</text>
<text x="312.10" y="337.2" text-anchor="middle" font-size="8.6">Pre</text>
<text x="343.12" y="337.2" text-anchor="middle" font-size="8.6">5h</text>
<text x="374.14" y="337.2" text-anchor="middle" font-size="8.6">1d</text>
<text x="405.16" y="337.2" text-anchor="middle" font-size="8.6">3d</text>
<text x="436.18" y="337.2" text-anchor="middle" font-size="8.6">5d</text>
<text x="467.20" y="337.2" text-anchor="middle" font-size="8.6">7d</text>
<path d="M335.2 342.9H475.7" stroke="#111" stroke-width="1"/>
<text x="405.45" y="353.4" text-anchor="middle" font-size="8.4">post-stroke</text>
<text transform="translate(266.20 262) rotate(-90) scale(0.745 1)" x="0" y="3.5" text-anchor="middle" font-size="10" stroke="#1a1a1a" stroke-width="0.32">Mean relative CBF (% of contral.)</text>
<path d="M312.40 228.30V235.30M309.30 228.30h6.2M309.30 235.30h6.2M343.20 284.10V297.30M340.10 284.10h6.2M340.10 297.30h6.2M374.20 271.65V281.65M371.10 271.65h6.2M371.10 281.65h6.2M436.07 243.00V252.00M432.97 243.00h6.2M432.97 252.00h6.2" stroke="#111" stroke-width="1" fill="none"/>
<circle cx="312.40" cy="231.80" r="2.75" fill="#fff" stroke="#111" stroke-width="1.1"/>
<circle cx="343.20" cy="290.70" r="2.75" fill="#fff" stroke="#111" stroke-width="1.1"/>
<circle cx="374.20" cy="276.65" r="2.75" fill="#fff" stroke="#111" stroke-width="1.1"/>
<circle cx="405.00" cy="260.00" r="2.75" fill="#fff" stroke="#111" stroke-width="1.1"/>
<circle cx="436.07" cy="247.50" r="2.75" fill="#fff" stroke="#111" stroke-width="1.1"/>
<circle cx="466.75" cy="250.60" r="2.75" fill="#fff" stroke="#111" stroke-width="1.1"/>
<path d="M312.40 231.80 L343.20 290.70 L374.20 276.65 L405.00 260.00 L436.07 247.50 L466.75 250.60" stroke="#183472" stroke-width="1.35" fill="none" stroke-linejoin="round"/>
<text x="374.20" y="268.30" text-anchor="middle" font-size="7.6" font-weight="bold" letter-spacing="-0.3">*</text>
<text x="405.10" y="253.30" text-anchor="middle" font-size="7.6" font-weight="bold" letter-spacing="-0.3">***</text>
<text x="436.00" y="239.70" text-anchor="middle" font-size="7.6" font-weight="bold" letter-spacing="-0.3">***</text>
<text x="467.10" y="243.00" text-anchor="middle" font-size="7.6" font-weight="bold" letter-spacing="-0.3">***</text>
</g>
</svg>
</body></html>
